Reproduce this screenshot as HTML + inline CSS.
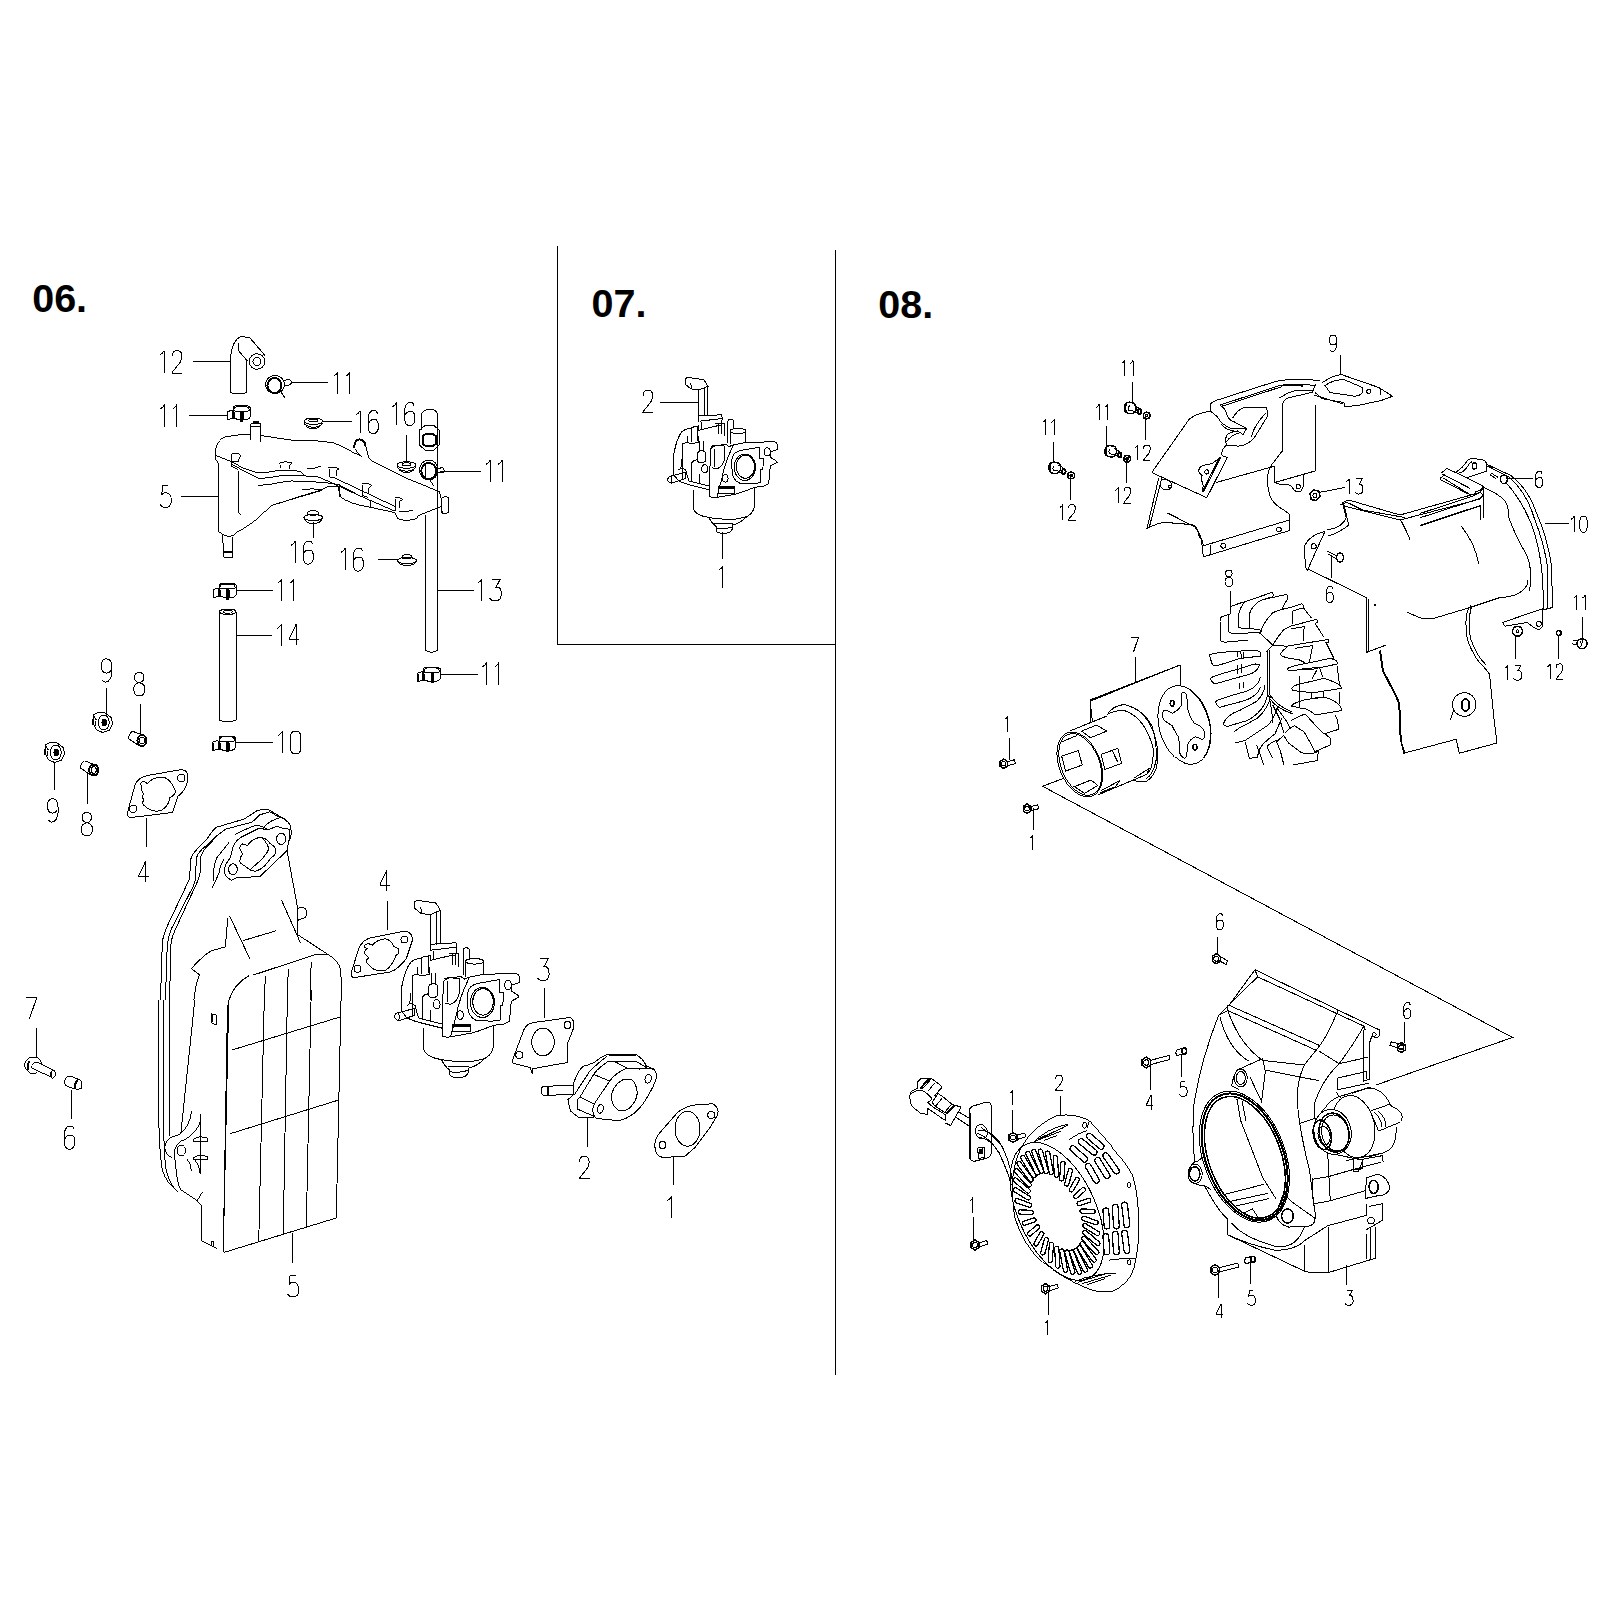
<!DOCTYPE html>
<html><head><meta charset="utf-8"><style>
html,body{margin:0;padding:0;background:#fff;}
body{width:1620px;height:1621px;overflow:hidden;position:relative;}
svg{position:absolute;left:0;top:0;}
.t{position:absolute;font-family:"Liberation Sans",sans-serif;font-weight:bold;font-size:39.5px;line-height:1;color:#000;}
</style></head><body>
<svg shape-rendering="crispEdges" width="1620" height="1621" viewBox="0 0 1620 1621">
<rect width="1620" height="1621" fill="#fff"/>
<g stroke="#000" stroke-width="1.5" fill="none">
<path d="M557.5,246 V644.3 H835.5 M835.5,249.5 V1375"/>
</g>
<g fill="none" stroke="#000" stroke-width="1">
<path transform="translate(160.00,350.50)" d="M4.2,0 V22 M4.2,0 Q3,2.8 0,4.3" vector-effect="non-scaling-stroke"/>
<path transform="translate(172.20,350.50)" d="M0.2,5.5 Q0.2,0.3 4,0.3 H6.6 Q9.6,0.8 9.6,6 Q9.6,9 7.8,12 L0.2,21.5 L0,22.5 H10" vector-effect="non-scaling-stroke"/>
<path transform="translate(333.50,372.00)" d="M4.2,0 V22 M4.2,0 Q3,2.8 0,4.3" vector-effect="non-scaling-stroke"/>
<path transform="translate(345.70,372.00)" d="M4.2,0 V22 M4.2,0 Q3,2.8 0,4.3" vector-effect="non-scaling-stroke"/>
<path transform="translate(160.50,404.50)" d="M4.2,0 V22 M4.2,0 Q3,2.8 0,4.3" vector-effect="non-scaling-stroke"/>
<path transform="translate(172.70,404.50)" d="M4.2,0 V22 M4.2,0 Q3,2.8 0,4.3" vector-effect="non-scaling-stroke"/>
<path transform="translate(356.00,410.50)" d="M4.2,0 V22 M4.2,0 Q3,2.8 0,4.3" vector-effect="non-scaling-stroke"/>
<path transform="translate(368.20,410.50)" d="M9.1,3.5 Q9,0 6,0 H4 Q0.5,2 0,7 V17 Q0.5,23.3 5.3,23.3 Q10.2,22.5 10.2,16 Q10.2,9 6.5,9 H4.5 Q1.5,9.5 0.4,12.7" vector-effect="non-scaling-stroke"/>
<path transform="translate(392.50,402.50)" d="M4.2,0 V22 M4.2,0 Q3,2.8 0,4.3" vector-effect="non-scaling-stroke"/>
<path transform="translate(404.70,402.50)" d="M9.1,3.5 Q9,0 6,0 H4 Q0.5,2 0,7 V17 Q0.5,23.3 5.3,23.3 Q10.2,22.5 10.2,16 Q10.2,9 6.5,9 H4.5 Q1.5,9.5 0.4,12.7" vector-effect="non-scaling-stroke"/>
<path transform="translate(486.00,460.00)" d="M4.2,0 V22 M4.2,0 Q3,2.8 0,4.3" vector-effect="non-scaling-stroke"/>
<path transform="translate(498.20,460.00)" d="M4.2,0 V22 M4.2,0 Q3,2.8 0,4.3" vector-effect="non-scaling-stroke"/>
<path transform="translate(160.00,485.50)" d="M8,0 H2.6 L1.8,9.5 Q3,7.2 5,7.2 H6 Q11.3,8.2 11.3,14.5 Q11.3,22 5.5,22 Q2,22 0,19" vector-effect="non-scaling-stroke"/>
<path transform="translate(291.00,541.00)" d="M4.2,0 V22 M4.2,0 Q3,2.8 0,4.3" vector-effect="non-scaling-stroke"/>
<path transform="translate(303.20,541.00)" d="M9.1,3.5 Q9,0 6,0 H4 Q0.5,2 0,7 V17 Q0.5,23.3 5.3,23.3 Q10.2,22.5 10.2,16 Q10.2,9 6.5,9 H4.5 Q1.5,9.5 0.4,12.7" vector-effect="non-scaling-stroke"/>
<path transform="translate(341.00,548.00)" d="M4.2,0 V22 M4.2,0 Q3,2.8 0,4.3" vector-effect="non-scaling-stroke"/>
<path transform="translate(353.20,548.00)" d="M9.1,3.5 Q9,0 6,0 H4 Q0.5,2 0,7 V17 Q0.5,23.3 5.3,23.3 Q10.2,22.5 10.2,16 Q10.2,9 6.5,9 H4.5 Q1.5,9.5 0.4,12.7" vector-effect="non-scaling-stroke"/>
<path transform="translate(277.50,579.00)" d="M4.2,0 V22 M4.2,0 Q3,2.8 0,4.3" vector-effect="non-scaling-stroke"/>
<path transform="translate(289.70,579.00)" d="M4.2,0 V22 M4.2,0 Q3,2.8 0,4.3" vector-effect="non-scaling-stroke"/>
<path transform="translate(477.50,579.00)" d="M4.2,0 V22 M4.2,0 Q3,2.8 0,4.3" vector-effect="non-scaling-stroke"/>
<path transform="translate(489.70,579.00)" d="M2.2,0 H10.7 L6.4,8 H8.6 Q11.5,9.5 11.5,14 V16.5 Q11,22 5,22 Q1.8,22 0,19" vector-effect="non-scaling-stroke"/>
<path transform="translate(277.00,624.40)" d="M4.2,0 V22 M4.2,0 Q3,2.8 0,4.3" vector-effect="non-scaling-stroke"/>
<path transform="translate(289.20,624.40)" d="M6.9,21 V0 L0,14.5 V15.1 H10.1" vector-effect="non-scaling-stroke"/>
<path transform="translate(482.50,662.50)" d="M4.2,0 V22 M4.2,0 Q3,2.8 0,4.3" vector-effect="non-scaling-stroke"/>
<path transform="translate(494.70,662.50)" d="M4.2,0 V22 M4.2,0 Q3,2.8 0,4.3" vector-effect="non-scaling-stroke"/>
<path transform="translate(278.20,731.20)" d="M4.2,0 V22 M4.2,0 Q3,2.8 0,4.3" vector-effect="non-scaling-stroke"/>
<path transform="translate(290.40,731.20)" d="M3.2,0 H7.3 Q10.3,1.5 10.3,5.5 V17 Q10.3,21.3 7.3,22.5 H3.2 Q0.2,21.3 0.2,17 V5.5 Q0.2,1.5 3.2,0 Z" vector-effect="non-scaling-stroke"/>
<path transform="translate(101.25,658.75)" d="M0.9,21 Q2,23.4 4.5,23.4 Q9.8,22.5 10.5,14 V8 Q10.5,0 5,0 Q0,0 0,7 Q0,14.3 5,14.3 Q8.5,14.3 9.8,11" vector-effect="non-scaling-stroke"/>
<path transform="translate(133.75,672.50)" d="M5.5,10.2 Q0.8,9 0.8,5.2 Q0.8,0 5.5,0 Q10.2,0 10.2,5.2 Q10.2,9 5.5,10.2 Q11.3,11.5 11.3,16.5 Q11.3,23.4 5.5,23.4 Q0,23.4 0,16.5 Q0,11.5 5.5,10.2 Z" vector-effect="non-scaling-stroke"/>
<path transform="translate(47.50,798.75)" d="M0.9,21 Q2,23.4 4.5,23.4 Q9.8,22.5 10.5,14 V8 Q10.5,0 5,0 Q0,0 0,7 Q0,14.3 5,14.3 Q8.5,14.3 9.8,11" vector-effect="non-scaling-stroke"/>
<path transform="translate(81.25,812.50)" d="M5.5,10.2 Q0.8,9 0.8,5.2 Q0.8,0 5.5,0 Q10.2,0 10.2,5.2 Q10.2,9 5.5,10.2 Q11.3,11.5 11.3,16.5 Q11.3,23.4 5.5,23.4 Q0,23.4 0,16.5 Q0,11.5 5.5,10.2 Z" vector-effect="non-scaling-stroke"/>
<path transform="translate(138.75,861.25)" d="M6.9,21 V0 L0,14.5 V15.1 H10.1" vector-effect="non-scaling-stroke"/>
<path transform="translate(380.00,870.00)" d="M6.9,21 V0 L0,14.5 V15.1 H10.1" vector-effect="non-scaling-stroke"/>
<path transform="translate(26.25,997.50)" d="M0,0 H10.6 Q7,10 3.3,21.2" vector-effect="non-scaling-stroke"/>
<path transform="translate(64.50,1126.00)" d="M9.1,3.5 Q9,0 6,0 H4 Q0.5,2 0,7 V17 Q0.5,23.3 5.3,23.3 Q10.2,22.5 10.2,16 Q10.2,9 6.5,9 H4.5 Q1.5,9.5 0.4,12.7" vector-effect="non-scaling-stroke"/>
<path transform="translate(287.50,1275.00)" d="M8,0 H2.6 L1.8,9.5 Q3,7.2 5,7.2 H6 Q11.3,8.2 11.3,14.5 Q11.3,22 5.5,22 Q2,22 0,19" vector-effect="non-scaling-stroke"/>
<path transform="translate(537.50,958.75)" d="M2.2,0 H10.7 L6.4,8 H8.6 Q11.5,9.5 11.5,14 V16.5 Q11,22 5,22 Q1.8,22 0,19" vector-effect="non-scaling-stroke"/>
<path transform="translate(579.50,1156.25)" d="M0.2,5.5 Q0.2,0.3 4,0.3 H6.6 Q9.6,0.8 9.6,6 Q9.6,9 7.8,12 L0.2,21.5 L0,22.5 H10" vector-effect="non-scaling-stroke"/>
<path transform="translate(667.50,1196.25)" d="M4.2,0 V22 M4.2,0 Q3,2.8 0,4.3" vector-effect="non-scaling-stroke"/>
<path transform="translate(643.00,390.00)" d="M0.2,5.5 Q0.2,0.3 4,0.3 H6.6 Q9.6,0.8 9.6,6 Q9.6,9 7.8,12 L0.2,21.5 L0,22.5 H10" vector-effect="non-scaling-stroke"/>
<path transform="translate(718.50,566.00)" d="M4.2,0 V22 M4.2,0 Q3,2.8 0,4.3" vector-effect="non-scaling-stroke"/>
<path transform="translate(1121.60,360.50) scale(0.7)" d="M4.2,0 V22 M4.2,0 Q3,2.8 0,4.3" vector-effect="non-scaling-stroke"/>
<path transform="translate(1130.14,360.50) scale(0.7)" d="M4.2,0 V22 M4.2,0 Q3,2.8 0,4.3" vector-effect="non-scaling-stroke"/>
<path transform="translate(1096.10,404.40) scale(0.7)" d="M4.2,0 V22 M4.2,0 Q3,2.8 0,4.3" vector-effect="non-scaling-stroke"/>
<path transform="translate(1104.64,404.40) scale(0.7)" d="M4.2,0 V22 M4.2,0 Q3,2.8 0,4.3" vector-effect="non-scaling-stroke"/>
<path transform="translate(1042.80,419.40) scale(0.7)" d="M4.2,0 V22 M4.2,0 Q3,2.8 0,4.3" vector-effect="non-scaling-stroke"/>
<path transform="translate(1051.34,419.40) scale(0.7)" d="M4.2,0 V22 M4.2,0 Q3,2.8 0,4.3" vector-effect="non-scaling-stroke"/>
<path transform="translate(1134.90,444.90) scale(0.7)" d="M4.2,0 V22 M4.2,0 Q3,2.8 0,4.3" vector-effect="non-scaling-stroke"/>
<path transform="translate(1143.44,444.90) scale(0.7)" d="M0.2,5.5 Q0.2,0.3 4,0.3 H6.6 Q9.6,0.8 9.6,6 Q9.6,9 7.8,12 L0.2,21.5 L0,22.5 H10" vector-effect="non-scaling-stroke"/>
<path transform="translate(1115.40,487.30) scale(0.7)" d="M4.2,0 V22 M4.2,0 Q3,2.8 0,4.3" vector-effect="non-scaling-stroke"/>
<path transform="translate(1123.94,487.30) scale(0.7)" d="M0.2,5.5 Q0.2,0.3 4,0.3 H6.6 Q9.6,0.8 9.6,6 Q9.6,9 7.8,12 L0.2,21.5 L0,22.5 H10" vector-effect="non-scaling-stroke"/>
<path transform="translate(1060.00,504.30) scale(0.7)" d="M4.2,0 V22 M4.2,0 Q3,2.8 0,4.3" vector-effect="non-scaling-stroke"/>
<path transform="translate(1068.54,504.30) scale(0.7)" d="M0.2,5.5 Q0.2,0.3 4,0.3 H6.6 Q9.6,0.8 9.6,6 Q9.6,9 7.8,12 L0.2,21.5 L0,22.5 H10" vector-effect="non-scaling-stroke"/>
<path transform="translate(1329.50,335.00) scale(0.7)" d="M0.9,21 Q2,23.4 4.5,23.4 Q9.8,22.5 10.5,14 V8 Q10.5,0 5,0 Q0,0 0,7 Q0,14.3 5,14.3 Q8.5,14.3 9.8,11" vector-effect="non-scaling-stroke"/>
<path transform="translate(1346.25,478.75) scale(0.7)" d="M4.2,0 V22 M4.2,0 Q3,2.8 0,4.3" vector-effect="non-scaling-stroke"/>
<path transform="translate(1354.79,478.75) scale(0.7)" d="M2.2,0 H10.7 L6.4,8 H8.6 Q11.5,9.5 11.5,14 V16.5 Q11,22 5,22 Q1.8,22 0,19" vector-effect="non-scaling-stroke"/>
<path transform="translate(1326.25,586.25) scale(0.7)" d="M9.1,3.5 Q9,0 6,0 H4 Q0.5,2 0,7 V17 Q0.5,23.3 5.3,23.3 Q10.2,22.5 10.2,16 Q10.2,9 6.5,9 H4.5 Q1.5,9.5 0.4,12.7" vector-effect="non-scaling-stroke"/>
<path transform="translate(1225.00,570.00) scale(0.7)" d="M5.5,10.2 Q0.8,9 0.8,5.2 Q0.8,0 5.5,0 Q10.2,0 10.2,5.2 Q10.2,9 5.5,10.2 Q11.3,11.5 11.3,16.5 Q11.3,23.4 5.5,23.4 Q0,23.4 0,16.5 Q0,11.5 5.5,10.2 Z" vector-effect="non-scaling-stroke"/>
<path transform="translate(1131.25,637.00) scale(0.7)" d="M0,0 H10.6 Q7,10 3.3,21.2" vector-effect="non-scaling-stroke"/>
<path transform="translate(1535.50,471.25) scale(0.7)" d="M9.1,3.5 Q9,0 6,0 H4 Q0.5,2 0,7 V17 Q0.5,23.3 5.3,23.3 Q10.2,22.5 10.2,16 Q10.2,9 6.5,9 H4.5 Q1.5,9.5 0.4,12.7" vector-effect="non-scaling-stroke"/>
<path transform="translate(1571.25,516.25) scale(0.7)" d="M4.2,0 V22 M4.2,0 Q3,2.8 0,4.3" vector-effect="non-scaling-stroke"/>
<path transform="translate(1579.79,516.25) scale(0.7)" d="M3.2,0 H7.3 Q10.3,1.5 10.3,5.5 V17 Q10.3,21.3 7.3,22.5 H3.2 Q0.2,21.3 0.2,17 V5.5 Q0.2,1.5 3.2,0 Z" vector-effect="non-scaling-stroke"/>
<path transform="translate(1573.75,595.00) scale(0.7)" d="M4.2,0 V22 M4.2,0 Q3,2.8 0,4.3" vector-effect="non-scaling-stroke"/>
<path transform="translate(1582.29,595.00) scale(0.7)" d="M4.2,0 V22 M4.2,0 Q3,2.8 0,4.3" vector-effect="non-scaling-stroke"/>
<path transform="translate(1505.00,665.00) scale(0.7)" d="M4.2,0 V22 M4.2,0 Q3,2.8 0,4.3" vector-effect="non-scaling-stroke"/>
<path transform="translate(1513.54,665.00) scale(0.7)" d="M2.2,0 H10.7 L6.4,8 H8.6 Q11.5,9.5 11.5,14 V16.5 Q11,22 5,22 Q1.8,22 0,19" vector-effect="non-scaling-stroke"/>
<path transform="translate(1547.50,663.75) scale(0.7)" d="M4.2,0 V22 M4.2,0 Q3,2.8 0,4.3" vector-effect="non-scaling-stroke"/>
<path transform="translate(1556.04,663.75) scale(0.7)" d="M0.2,5.5 Q0.2,0.3 4,0.3 H6.6 Q9.6,0.8 9.6,6 Q9.6,9 7.8,12 L0.2,21.5 L0,22.5 H10" vector-effect="non-scaling-stroke"/>
<path transform="translate(1005.00,716.25) scale(0.7)" d="M4.2,0 V22 M4.2,0 Q3,2.8 0,4.3" vector-effect="non-scaling-stroke"/>
<path transform="translate(1030.00,835.00) scale(0.7)" d="M4.2,0 V22 M4.2,0 Q3,2.8 0,4.3" vector-effect="non-scaling-stroke"/>
<path transform="translate(1216.25,913.75) scale(0.7)" d="M9.1,3.5 Q9,0 6,0 H4 Q0.5,2 0,7 V17 Q0.5,23.3 5.3,23.3 Q10.2,22.5 10.2,16 Q10.2,9 6.5,9 H4.5 Q1.5,9.5 0.4,12.7" vector-effect="non-scaling-stroke"/>
<path transform="translate(1403.75,1002.50) scale(0.7)" d="M9.1,3.5 Q9,0 6,0 H4 Q0.5,2 0,7 V17 Q0.5,23.3 5.3,23.3 Q10.2,22.5 10.2,16 Q10.2,9 6.5,9 H4.5 Q1.5,9.5 0.4,12.7" vector-effect="non-scaling-stroke"/>
<path transform="translate(1055.50,1075.00) scale(0.7)" d="M0.2,5.5 Q0.2,0.3 4,0.3 H6.6 Q9.6,0.8 9.6,6 Q9.6,9 7.8,12 L0.2,21.5 L0,22.5 H10" vector-effect="non-scaling-stroke"/>
<path transform="translate(1010.00,1090.00) scale(0.7)" d="M4.2,0 V22 M4.2,0 Q3,2.8 0,4.3" vector-effect="non-scaling-stroke"/>
<path transform="translate(1146.25,1095.00) scale(0.7)" d="M6.9,21 V0 L0,14.5 V15.1 H10.1" vector-effect="non-scaling-stroke"/>
<path transform="translate(1179.25,1081.25) scale(0.7)" d="M8,0 H2.6 L1.8,9.5 Q3,7.2 5,7.2 H6 Q11.3,8.2 11.3,14.5 Q11.3,22 5.5,22 Q2,22 0,19" vector-effect="non-scaling-stroke"/>
<path transform="translate(970.00,1197.50) scale(0.7)" d="M4.2,0 V22 M4.2,0 Q3,2.8 0,4.3" vector-effect="non-scaling-stroke"/>
<path transform="translate(1045.00,1320.00) scale(0.7)" d="M4.2,0 V22 M4.2,0 Q3,2.8 0,4.3" vector-effect="non-scaling-stroke"/>
<path transform="translate(1216.25,1303.75) scale(0.7)" d="M6.9,21 V0 L0,14.5 V15.1 H10.1" vector-effect="non-scaling-stroke"/>
<path transform="translate(1247.50,1290.00) scale(0.7)" d="M8,0 H2.6 L1.8,9.5 Q3,7.2 5,7.2 H6 Q11.3,8.2 11.3,14.5 Q11.3,22 5.5,22 Q2,22 0,19" vector-effect="non-scaling-stroke"/>
<path transform="translate(1345.00,1290.00) scale(0.7)" d="M2.2,0 H10.7 L6.4,8 H8.6 Q11.5,9.5 11.5,14 V16.5 Q11,22 5,22 Q1.8,22 0,19" vector-effect="non-scaling-stroke"/>
</g>
<g fill="none" stroke="#000" stroke-width="1" stroke-linecap="round">
<path d="M193,361.5 H230"/>
<path d="M291,382.5 H327.5"/>
<path d="M189,415.5 H227.5"/>
<path d="M322.5,421.5 H352"/>
<path d="M406.5,435 V462.5"/>
<path d="M440,471.5 H481"/>
<path d="M181,496.5 H217.5"/>
<path d="M313.5,522.5 V537.5"/>
<path d="M378,559.5 H397.5"/>
<path d="M236,590.5 H272.5"/>
<path d="M437.5,590.5 H474"/>
<path d="M236,635.5 H272"/>
<path d="M441,674.5 H477.5"/>
<path d="M106.5,688.75 V715"/>
<path d="M140.5,704.5 V733.75"/>
<path d="M54.5,762.5 V790"/>
<path d="M87.5,773.75 V803.75"/>
<path d="M146.5,818 V847"/>
<path d="M235,742.5 H272.5"/>
<path d="M387.5,901.25 V930"/>
<path d="M36.5,1028 V1057.5"/>
<path d="M71.75,1090 V1118.75"/>
<path d="M292.5,1233.75 V1262.5"/>
<path d="M544.5,988.75 V1017.5"/>
<path d="M587.5,1117.5 V1146.25"/>
<path d="M673.5,1156.25 V1185"/>
<path d="M660.7,402.5 H698.5"/>
<path d="M722.5,532.4 V558.3"/>
<path d="M1132.5,382.2 V402.2"/>
<path d="M1106.5,426 V446.6"/>
<path d="M1053.5,442.2 V462.1"/>
<path d="M1145.5,416 V439.4"/>
<path d="M1126.5,459.4 V482.7"/>
<path d="M1070.5,477.7 V499.9"/>
<path d="M1340.5,355 V373.75"/>
<path d="M1318.75,492.5 L1345,487.5"/>
<path d="M1331.5,555 V577.5"/>
<path d="M1230.5,591.25 V613.75"/>
<path d="M1135.5,657.5 V681.25"/>
<path d="M1090,701.25 L1180,665 M1090,701.25 V722 M1180,665 V685"/>
<path d="M1506.25,478.5 H1532.5"/>
<path d="M1545,523.75 H1568.75"/>
<path d="M1582.5,617.5 V642.5"/>
<path d="M1515.5,635 V658.75"/>
<path d="M1558.5,635 V658.75"/>
<path d="M1009.5,738.75 V760"/>
<path d="M1033.75,808.75 V830"/>
<path d="M1217.5,937.5 V955"/>
<path d="M1404.5,1022.5 V1042.5"/>
<path d="M1060.5,1096.25 V1115"/>
<path d="M1012.5,1110 V1132.5"/>
<path d="M1150.5,1065 V1090"/>
<path d="M1181.5,1055 V1076.25"/>
<path d="M973.5,1217.5 V1240"/>
<path d="M1048.75,1290 V1315"/>
<path d="M1218.75,1270 V1297.5"/>
<path d="M1250.5,1260 V1283.75"/>
<path d="M1346.5,1265 V1285"/>
<path d="M1062.5,778.75 L1042.5,786.25 L1512.5,1037.5 L1376,1085"/>
</g>
<g transform="translate(205,420) scale(0.15432098765432098)" fill="none" stroke="#000" stroke-width="1">

<path d="M85,720 V280 L70,255 V185 Q90,120 130,110 Q200,95 295,92" vector-effect="non-scaling-stroke"/>
<path d="M295,130 V25 H360 V145" vector-effect="non-scaling-stroke"/><path d="M300,45 H358" vector-effect="non-scaling-stroke"/><path d="M310,15 H350" stroke-width="2" vector-effect="non-scaling-stroke"/>
<path d="M360,100 L590,135 Q700,125 840,150 Q900,175 960,210 L1015,235" vector-effect="non-scaling-stroke"/>
<path d="M965,180 Q970,130 1000,125 Q1035,130 1040,165" stroke-width="2" vector-effect="non-scaling-stroke"/>
<path d="M1040,165 L1060,240 Q1075,265 1100,275 L1300,375 L1520,465" vector-effect="non-scaling-stroke"/><path d="M975,190 Q990,215 1010,235" vector-effect="non-scaling-stroke"/>
<path d="M1520,465 L1530,510 Q1550,490 1580,500 V600 L1540,610 L1530,560 L1380,620 L1370,640 Q1300,660 1250,640 L1230,600" vector-effect="non-scaling-stroke"/>
<path d="M1530,510 V600" vector-effect="non-scaling-stroke"/>
<path d="M1230,600 L1070,565 Q940,545 880,500 L860,430 Q800,420 750,455 L600,500 L430,555 L370,610 Q300,680 200,730 L180,750 Q150,760 120,745 L85,720" vector-effect="non-scaling-stroke"/>
<path d="M115,745 L120,890 H180 V760" vector-effect="non-scaling-stroke"/><path d="M115,858 H180" stroke-width="2" vector-effect="non-scaling-stroke"/>
<path d="M70,230 L170,270 Q250,320 330,340 Q400,345 460,330 Q560,320 620,335 L640,355" vector-effect="non-scaling-stroke"/>
<path d="M170,285 Q250,330 350,380 Q420,375 500,360 L620,360 L740,370 L1000,490 L1230,590" vector-effect="non-scaling-stroke"/>
<path d="M345,425 L430,415 Q500,400 560,395 L700,400 L820,410 L870,420 L1010,495" vector-effect="non-scaling-stroke"/>
<path d="M630,450 Q700,440 760,455" vector-effect="non-scaling-stroke"/><path d="M440,550 L760,455" vector-effect="non-scaling-stroke"/><path d="M220,330 V600 L235,615" vector-effect="non-scaling-stroke"/>
<path d="M660,315 Q700,320 750,300" vector-effect="non-scaling-stroke"/><path d="M1255,590 Q1300,600 1350,585" vector-effect="non-scaling-stroke"/>
<path d="M840,375 L1230,560" vector-effect="non-scaling-stroke"/><path d="M870,420 V500" vector-effect="non-scaling-stroke"/><path d="M1075,520 V565" vector-effect="non-scaling-stroke"/>
<path d="M165,230 Q170,215 200,215 Q230,220 230,230 L215,270 H170 V230" vector-effect="non-scaling-stroke"/><path d="M170,270 V300 L215,320" vector-effect="non-scaling-stroke"/>
<path d="M480,280 Q520,262 565,278 L550,290 V320" vector-effect="non-scaling-stroke"/><path d="M490,290 V310" vector-effect="non-scaling-stroke"/>
<path d="M800,310 Q840,300 870,315 L850,330 V360" vector-effect="non-scaling-stroke"/><path d="M810,320 V370 L840,375" vector-effect="non-scaling-stroke"/>
<path d="M1015,410 Q1050,400 1080,425 L1060,440 V470" vector-effect="non-scaling-stroke"/><path d="M1020,420 V490 L1055,500" vector-effect="non-scaling-stroke"/>
<path d="M1230,505 Q1260,495 1280,515 L1260,530 V570" vector-effect="non-scaling-stroke"/><path d="M1235,510 V590" vector-effect="non-scaling-stroke"/>

</g>
<g transform="translate(140,320) scale(0.25)" fill="none" stroke="#000" stroke-width="1">

<path d="M362,290 V155 Q368,80 405,65 L440,72 L500,142" vector-effect="non-scaling-stroke"/>
<path d="M392,90 V120 L430,165" vector-effect="non-scaling-stroke"/><path d="M427,165 V290" vector-effect="non-scaling-stroke"/><path d="M362,290 Q395,302 427,290" vector-effect="non-scaling-stroke"/>
<circle cx="468" cy="166" r="31" vector-effect="non-scaling-stroke"/><circle cx="468" cy="166" r="16" vector-effect="non-scaling-stroke"/>
<ellipse cx="540" cy="258" rx="38" ry="36" vector-effect="non-scaling-stroke"/><ellipse cx="538" cy="262" rx="28" ry="30" stroke-width="2" vector-effect="non-scaling-stroke"/>
<path d="M578,242 L595,236 L606,246 L603,258 L578,264" vector-effect="non-scaling-stroke"/><path d="M565,290 L580,312" vector-effect="non-scaling-stroke"/>
<ellipse cx="693" cy="405" rx="37" ry="13" vector-effect="non-scaling-stroke"/><ellipse cx="693" cy="402" rx="18" ry="6" vector-effect="non-scaling-stroke"/>
<path d="M657,412 Q660,425 693,430 Q726,425 729,412" vector-effect="non-scaling-stroke"/><path d="M665,426 Q693,445 721,426" vector-effect="non-scaling-stroke"/>
<ellipse cx="1066" cy="580" rx="38" ry="13" vector-effect="non-scaling-stroke"/><ellipse cx="1066" cy="577" rx="18" ry="6" vector-effect="non-scaling-stroke"/>
<path d="M1029,587 Q1032,600 1066,605 Q1100,600 1103,587" vector-effect="non-scaling-stroke"/><path d="M1037,601 Q1066,620 1095,601" vector-effect="non-scaling-stroke"/>
<ellipse cx="693" cy="772" rx="22" ry="9" vector-effect="non-scaling-stroke"/><path d="M671,772 V785" vector-effect="non-scaling-stroke"/><path d="M715,772 V785" vector-effect="non-scaling-stroke"/>
<ellipse cx="693" cy="790" rx="37" ry="12" vector-effect="non-scaling-stroke"/><path d="M656,792 Q660,812 693,815 Q726,812 730,792" vector-effect="non-scaling-stroke"/>
<ellipse cx="1068" cy="947" rx="20" ry="8" vector-effect="non-scaling-stroke"/><path d="M1048,947 V957" vector-effect="non-scaling-stroke"/><path d="M1088,947 V957" vector-effect="non-scaling-stroke"/>
<ellipse cx="1068" cy="962" rx="38" ry="13" vector-effect="non-scaling-stroke"/><path d="M1030,965 Q1035,980 1068,983 Q1101,980 1106,965" vector-effect="non-scaling-stroke"/>
<ellipse cx="351" cy="1167" rx="33" ry="11" vector-effect="non-scaling-stroke"/><ellipse cx="351" cy="1167" rx="18" ry="6" vector-effect="non-scaling-stroke"/>
<path d="M318,1167 V1600 Q350,1615 385,1600 V1167" vector-effect="non-scaling-stroke"/>
<path d="M1190,380 V1320 Q1165,1338 1140,1320 V780" vector-effect="non-scaling-stroke"/><path d="M1140,640 V580" vector-effect="non-scaling-stroke"/>
<path d="M1125,440 V380 Q1130,358 1160,356 Q1188,358 1190,380" vector-effect="non-scaling-stroke"/>
<path d="M1118,440 L1140,422 H1175 L1197,440 V500 L1175,520 H1140 L1118,500 Z" vector-effect="non-scaling-stroke"/>
<path d="M1130,465 L1145,455 H1170 L1185,465 V495 L1170,505 H1145 L1130,495 Z" stroke-width="2" vector-effect="non-scaling-stroke"/>
<ellipse cx="1155" cy="600" rx="37" ry="40" vector-effect="non-scaling-stroke"/><ellipse cx="1155" cy="604" rx="30" ry="32" stroke-width="2" vector-effect="non-scaling-stroke"/>
<path d="M1190,595 L1210,590 L1218,602 L1210,612 L1190,610" vector-effect="non-scaling-stroke"/><path d="M1160,640 L1175,665" vector-effect="non-scaling-stroke"/>


</g>
<g transform="translate(0,640) scale(0.25)" fill="none" stroke="#000" stroke-width="1">

<path d="M372,300 L392,290 L420,292 L445,310 L450,335 L438,360 L410,370 L385,358 L372,330 Z" vector-effect="non-scaling-stroke"/>
<path d="M368,315 V340 M380,322 V345 M372,300 L385,320" vector-effect="non-scaling-stroke"/>
<ellipse cx="415" cy="330" rx="22" ry="30" vector-effect="non-scaling-stroke"/><ellipse cx="417" cy="330" rx="9" ry="14" fill="#000" vector-effect="non-scaling-stroke"/>
<path d="M180,420 L200,410 L228,412 L253,430 L258,455 L246,480 L218,490 L193,478 L180,450 Z" vector-effect="non-scaling-stroke"/>
<path d="M176,435 V460 M188,442 V465 M180,420 L193,440" vector-effect="non-scaling-stroke"/>
<ellipse cx="223" cy="450" rx="22" ry="30" vector-effect="non-scaling-stroke"/><ellipse cx="225" cy="450" rx="9" ry="14" fill="#000" vector-effect="non-scaling-stroke"/>
<path d="M530,365 Q515,375 515,395 L555,422 M530,365 L575,382" vector-effect="non-scaling-stroke"/>
<ellipse cx="568" cy="402" rx="18" ry="22" stroke-width="2" vector-effect="non-scaling-stroke"/><ellipse cx="568" cy="402" rx="10" ry="13" vector-effect="non-scaling-stroke"/>
<path d="M338,483 Q322,492 322,512 L362,540 M338,483 L382,500" vector-effect="non-scaling-stroke"/>
<ellipse cx="375" cy="520" rx="18" ry="22" stroke-width="2" vector-effect="non-scaling-stroke"/><ellipse cx="375" cy="520" rx="10" ry="13" vector-effect="non-scaling-stroke"/>
<path d="M510,690 L540,580 Q552,548 600,540 L728,518 Q755,522 752,560 L742,590 Q735,605 712,625 L690,690 L525,710 Q505,708 510,690 Z" vector-effect="non-scaling-stroke"/>
<circle cx="725" cy="552" r="15" vector-effect="non-scaling-stroke"/><circle cx="533" cy="675" r="15" vector-effect="non-scaling-stroke"/>
<path d="M565,585 Q558,570 575,565 L590,575 Q610,548 650,548 Q680,552 700,600 Q705,610 690,625 L680,630 Q670,680 630,685 Q600,685 580,665 Q565,655 575,640 L568,625 Q580,615 565,600 Z" vector-effect="non-scaling-stroke"/>

</g>
<g transform="translate(150,800) scale(0.1234567901234568)" fill="none" stroke="#000" stroke-width="1">

<path d="M85,1620 L100,1150 Q110,1080 150,1000 L320,640 L330,480 Q340,440 380,400 L460,320 Q500,250 540,220 L760,155 Q820,120 870,85 Q900,75 960,78 L1080,150 Q1130,180 1140,220 L1145,270 L1130,330" vector-effect="non-scaling-stroke"/>
<path d="M125,1620 L140,1170 Q150,1100 175,1040 L355,690 Q370,650 370,600 L375,480 Q380,440 420,400 L455,370 Q510,320 540,290 L615,235 L825,180 Q860,150 890,120 L970,95 L1030,130 Q1075,145 1090,150" vector-effect="non-scaling-stroke"/>
<path d="M158,1620 L170,1170 Q175,1110 200,1060 L385,660 Q400,620 405,590 L405,490 Q410,440 450,390 L510,330" vector-effect="non-scaling-stroke"/>
<path d="M600,580 Q610,625 660,650 L700,630 L890,620 L1110,410 L1125,330 Q1140,270 1130,240 Q1100,225 1080,230 Q1040,210 1010,220 L960,240 L880,230 L740,300 Q680,340 670,390 L650,470 Q605,520 600,580 Z" vector-effect="non-scaling-stroke"/>
<ellipse cx="1063" cy="315" rx="38" ry="45" vector-effect="non-scaling-stroke"/><ellipse cx="672" cy="562" rx="35" ry="45" vector-effect="non-scaling-stroke"/>
<path d="M730,400 Q720,370 750,355 L790,370 Q820,320 880,305 Q940,300 970,350 L1010,380 Q1025,410 1010,445 L980,470 Q920,560 860,575 Q820,580 790,550 L730,510 Q720,470 750,440 Z" vector-effect="non-scaling-stroke"/>
<path d="M910,310 Q960,360 960,400 Q940,460 820,555" vector-effect="non-scaling-stroke"/>
<path d="M685,280 L825,215 Q880,200 920,220 L960,240" vector-effect="non-scaling-stroke"/><path d="M920,225 Q970,160 1070,140" vector-effect="non-scaling-stroke"/>
<path d="M515,660 Q505,560 540,470 L640,345" vector-effect="non-scaling-stroke"/><path d="M505,710 L560,590 Q570,520 600,480" vector-effect="non-scaling-stroke"/>
<path d="M1110,410 L1195,870 L1195,1090 L1440,1250 Q1530,1300 1545,1380 L1555,1620" vector-effect="non-scaling-stroke"/>
<path d="M1195,880 Q1230,860 1260,880 Q1280,920 1260,950 L1195,975" vector-effect="non-scaling-stroke"/>
<path d="M1065,810 L1220,1160" vector-effect="non-scaling-stroke"/>
<path d="M630,960 L610,1190 L500,1220 Q440,1250 335,1365 L400,1415 Q370,1490 355,1620" vector-effect="non-scaling-stroke"/>
<path d="M645,940 L808,1285" vector-effect="non-scaling-stroke"/><path d="M750,1140 L1020,1060" vector-effect="non-scaling-stroke"/>
<path d="M830,1420 L1345,1250 H1440" vector-effect="non-scaling-stroke"/><path d="M800,1425 Q680,1490 640,1620" vector-effect="non-scaling-stroke"/>
<path d="M935,1425 L925,1620" vector-effect="non-scaling-stroke"/><path d="M1120,1370 L1112,1620" vector-effect="non-scaling-stroke"/><path d="M1305,1315 L1300,1620" vector-effect="non-scaling-stroke"/>

</g>
<g transform="translate(140,1000) scale(0.15432098765432098)" fill="none" stroke="#000" stroke-width="1">

<path d="M120,0 V700 Q125,1000 145,1100 Q165,1180 245,1240" vector-effect="non-scaling-stroke"/>
<path d="M155,0 V900 Q160,1060 170,1100 Q190,1180 215,1210" vector-effect="non-scaling-stroke"/>
<path d="M190,0 V880" vector-effect="non-scaling-stroke"/>
<path d="M355,0 L265,860" vector-effect="non-scaling-stroke"/>
<path d="M200,890 Q160,920 160,960 Q170,1010 210,1020" vector-effect="non-scaling-stroke"/>
<path d="M200,890 L260,870 Q320,820 335,720" vector-effect="non-scaling-stroke"/><path d="M220,1020 Q215,920 300,900 Q370,850 390,790" vector-effect="non-scaling-stroke"/>
<ellipse cx="268" cy="975" rx="28" ry="35" vector-effect="non-scaling-stroke"/>
<path d="M390,740 V1130" vector-effect="non-scaling-stroke"/>
<path d="M345,905 Q380,870 440,900 V915 H345 Z" vector-effect="non-scaling-stroke"/><path d="M345,1025 Q380,990 440,1020 V1035 H345 Z" vector-effect="non-scaling-stroke"/>
<path d="M305,1030 Q330,1060 332,1105" vector-effect="non-scaling-stroke"/><path d="M350,1030 Q385,1070 390,1130" vector-effect="non-scaling-stroke"/>
<path d="M225,1020 L240,1150 Q250,1210 265,1230 L370,1300 L400,1330 V1560 L500,1610" vector-effect="non-scaling-stroke"/>
<path d="M370,1300 L405,1245" vector-effect="non-scaling-stroke"/>
<path d="M460,90 L495,95 V160 L465,150 Z" vector-effect="non-scaling-stroke"/><path d="M470,100 V145" vector-effect="non-scaling-stroke"/>
<ellipse cx="470" cy="1580" rx="10" ry="16" vector-effect="non-scaling-stroke"/>
<path d="M575,0 L540,1600" vector-effect="non-scaling-stroke"/>

</g>
<g transform="translate(0,990) scale(0.25)" fill="none" stroke="#000" stroke-width="1">

<path d="M1058,0 L1035,1005" vector-effect="non-scaling-stroke"/><path d="M1150,0 L1133,975" vector-effect="non-scaling-stroke"/><path d="M1245,0 L1225,950" vector-effect="non-scaling-stroke"/>
<path d="M1365,0 L1345,912 L895,1050" vector-effect="non-scaling-stroke"/>
<path d="M928,240 L1360,108" vector-effect="non-scaling-stroke"/><path d="M920,575 L1355,440" vector-effect="non-scaling-stroke"/>
<path d="M910,60 L893,1050" vector-effect="non-scaling-stroke"/><path d="M1168,975 V970" vector-effect="non-scaling-stroke"/>

</g>
<g transform="translate(385,890) scale(0.12027904738994467)" fill="none" stroke="#000" stroke-width="1">

<path d="M245,100 Q260,85 300,90 L420,108 Q440,130 460,170 L375,205 L300,195 L245,150 Z" vector-effect="non-scaling-stroke"/>
<path d="M300,195 Q310,160 290,140" vector-effect="non-scaling-stroke"/>
<path d="M375,205 V510" vector-effect="non-scaling-stroke"/><path d="M430,180 V455" vector-effect="non-scaling-stroke"/><path d="M460,170 V450" vector-effect="non-scaling-stroke"/>
<path d="M375,450 L460,448 L590,438 L595,470 L590,540 L545,545 L400,580 L380,585" vector-effect="non-scaling-stroke"/>
<path d="M385,500 L590,475" vector-effect="non-scaling-stroke"/><path d="M400,505 V580" vector-effect="non-scaling-stroke"/>
<path d="M300,560 L375,545 V590" vector-effect="non-scaling-stroke"/><path d="M305,555 V695" vector-effect="non-scaling-stroke"/><path d="M360,550 V690" vector-effect="non-scaling-stroke"/>
<path d="M270,640 V700 Q300,720 370,700 V640" vector-effect="non-scaling-stroke"/>
<path d="M225,710 L275,700" vector-effect="non-scaling-stroke"/><path d="M225,710 V1060" vector-effect="non-scaling-stroke"/>
<path d="M140,1010 V800 Q170,650 215,600 Q250,570 305,565" vector-effect="non-scaling-stroke"/>
<path d="M215,860 L205,950" vector-effect="non-scaling-stroke"/>
<path d="M365,800 Q370,780 400,775 Q430,780 435,795 V880 Q420,895 395,895 Q370,890 365,880 Z" vector-effect="non-scaling-stroke"/>
<path d="M385,690 V790" vector-effect="non-scaling-stroke"/><path d="M420,690 V790" vector-effect="non-scaling-stroke"/>
<path d="M490,740 Q500,730 540,730 L620,735 V850 Q600,940 540,950 L500,940" vector-effect="non-scaling-stroke"/><path d="M520,760 V930" vector-effect="non-scaling-stroke"/>
<path d="M310,890 V1070" vector-effect="non-scaling-stroke"/><path d="M380,1000 V1090" vector-effect="non-scaling-stroke"/><path d="M310,890 Q330,860 365,865" vector-effect="non-scaling-stroke"/>
<path d="M650,495 Q660,478 680,480 Q700,482 702,500 V570" vector-effect="non-scaling-stroke"/><path d="M650,495 V705" vector-effect="non-scaling-stroke"/>
<path d="M530,525 H615 V640" vector-effect="non-scaling-stroke"/><path d="M560,520 V620" vector-effect="non-scaling-stroke"/><path d="M590,520 V625" vector-effect="non-scaling-stroke"/>
<ellipse cx="745" cy="593" rx="75" ry="23" vector-effect="non-scaling-stroke"/><path d="M670,593 V720" vector-effect="non-scaling-stroke"/><path d="M820,593 V700" vector-effect="non-scaling-stroke"/>
<path d="M480,1215 L475,1120 L485,770 Q490,740 540,730 L630,720 L660,740 Q700,720 830,700 L1090,695 Q1120,705 1118,735 L1115,770 L1055,790 L1050,840 L1105,875 L1115,890 L1050,925 L1035,1090 L985,1115 L905,1125 L770,1175 L720,1190 L515,1225 Z" vector-effect="non-scaling-stroke"/>
<path d="M685,870 Q690,790 780,775 L950,745 V850 H985 L980,960 H960 V1080 Q930,1090 870,1090 L760,1085 Q700,1060 690,990 Z" vector-effect="non-scaling-stroke"/>
<ellipse cx="810" cy="935" rx="100" ry="125" vector-effect="non-scaling-stroke"/><ellipse cx="815" cy="930" rx="86" ry="110" vector-effect="non-scaling-stroke"/>
<ellipse cx="1022" cy="790" rx="28" ry="38" vector-effect="non-scaling-stroke"/><ellipse cx="625" cy="1040" rx="26" ry="36" vector-effect="non-scaling-stroke"/><ellipse cx="430" cy="950" rx="28" ry="38" vector-effect="non-scaling-stroke"/>
<path d="M545,1220 L590,1050 Q620,890 700,730" vector-effect="non-scaling-stroke"/>
<path d="M560,1120 H715 V1180 H560 Z" vector-effect="non-scaling-stroke"/><path d="M575,1132 H710" stroke-width="2" vector-effect="non-scaling-stroke"/>
<path d="M180,1060 Q230,1090 320,1110 L480,1150" vector-effect="non-scaling-stroke"/><path d="M280,1065 L480,1115" vector-effect="non-scaling-stroke"/><path d="M140,1010 L180,1060" vector-effect="non-scaling-stroke"/>
<path d="M80,1050 Q82,1025 110,1020 L245,985 L250,1040 L120,1085 Q85,1085 80,1050 Z" vector-effect="non-scaling-stroke"/>
<path d="M110,1020 Q125,1050 115,1082" vector-effect="non-scaling-stroke"/><path d="M185,960 Q210,930 250,960 L260,1000 L280,1065" vector-effect="non-scaling-stroke"/>
<path d="M320,1150 V1320 Q335,1375 420,1400 Q520,1425 690,1430 Q800,1415 840,1395 Q895,1360 900,1300 V1125" vector-effect="non-scaling-stroke"/>
<path d="M470,1410 Q490,1460 540,1500 V1540 Q560,1562 620,1562 Q680,1555 690,1520 L695,1480 Q760,1470 830,1400" vector-effect="non-scaling-stroke"/>
<path d="M540,1510 Q610,1525 690,1500" vector-effect="non-scaling-stroke"/><path d="M520,1470 L700,1470" vector-effect="non-scaling-stroke"/>

</g>
<g transform="translate(535,1045) scale(0.08025682182985554)" fill="none" stroke="#000" stroke-width="1">

<path d="M720,800 Q730,740 760,700 L930,450 Q1000,350 1140,290 L1480,300 Q1520,340 1510,420 L1470,520 Q1380,700 1300,790 Q1200,900 1060,940 L880,930 L760,910 Q720,880 720,800 Z" vector-effect="non-scaling-stroke"/>
<ellipse cx="815" cy="795" rx="38" ry="55" transform="rotate(15 815 795)" vector-effect="non-scaling-stroke"/><ellipse cx="1410" cy="420" rx="38" ry="55" transform="rotate(15 1410 420)" vector-effect="non-scaling-stroke"/>
<path d="M1080,440 Q1110,425 1200,425 Q1270,490 1275,600 Q1260,720 1160,800 Q1090,830 1040,815 Q960,760 950,650 Q960,520 1080,440 Z" vector-effect="non-scaling-stroke"/>
<path d="M890,120 L1260,120 Q1350,170 1385,260 L1480,300" vector-effect="non-scaling-stroke"/><path d="M920,125 H1260" stroke-width="2" vector-effect="non-scaling-stroke"/>
<path d="M910,205 H1260 L1420,300" vector-effect="non-scaling-stroke"/><path d="M1000,210 L1150,290 L1310,300" vector-effect="non-scaling-stroke"/>
<path d="M890,120 Q820,150 740,215 L660,250 L600,265 Q560,300 540,340 L480,470 V620 L410,680 L440,820 L540,900 H740" vector-effect="non-scaling-stroke"/>
<path d="M910,205 Q800,280 740,350 L560,650 L530,680 V800 L740,890" vector-effect="non-scaling-stroke"/>
<path d="M740,370 L930,450" vector-effect="non-scaling-stroke"/><path d="M560,650 L740,740" vector-effect="non-scaling-stroke"/><path d="M900,140 Q800,210 680,330 L490,620" vector-effect="non-scaling-stroke"/>
<path d="M80,540 Q90,515 130,515 L480,500 V610 L150,630 Q85,630 80,600 Z" vector-effect="non-scaling-stroke"/><path d="M165,520 V630" stroke-width="2" vector-effect="non-scaling-stroke"/>

</g>
<g transform="translate(15,1045) scale(0.04938271604938271)" fill="none" stroke="#000" stroke-width="1">

<path d="M200,380 Q230,270 330,250 L430,250 Q510,270 520,340 L540,380" vector-effect="non-scaling-stroke"/>
<path d="M200,380 L195,420 Q220,500 260,520 Q290,570 340,580 L420,580 L440,540" vector-effect="non-scaling-stroke"/>
<path d="M280,330 Q260,400 270,500" stroke-width="2" vector-effect="non-scaling-stroke"/>
<path d="M340,400 Q380,350 460,355 L540,395 L800,520" vector-effect="non-scaling-stroke"/><path d="M330,430 Q340,480 390,495 L720,640" vector-effect="non-scaling-stroke"/>
<path d="M720,545 Q760,510 800,520 Q830,550 820,630 L760,670 L720,640 Z" vector-effect="non-scaling-stroke"/><path d="M730,550 V640" stroke-width="2" vector-effect="non-scaling-stroke"/>
<path d="M1060,640 Q1000,690 1000,760 L1020,820 L1200,890" vector-effect="non-scaling-stroke"/><path d="M1060,640 L1140,635 L1340,720 Q1370,780 1350,870 L1260,910 Q1200,890 1205,800 L1260,720" vector-effect="non-scaling-stroke"/>
<path d="M1270,700 L1215,800 L1220,890" stroke-width="2" vector-effect="non-scaling-stroke"/>

</g>
<g transform="translate(227.3,405.6) scale(1.0)" fill="none" stroke="#000" stroke-width="1">

<path d="M6.2,1.5 L8,0 H20.4 L22.8,1.9 L23.1,2.8 Q22.2,5.2 20.1,5.6 H8.3 L6.2,4.9 Z" vector-effect="non-scaling-stroke"/>
<path d="M6.5,4.9 Q6.3,2 9.6,0.9 H18.7 Q21.5,1.6 22,3.9" vector-effect="non-scaling-stroke"/>
<path d="M23.1,2.8 V11.1 L21.3,13.3 L19.4,14.2 H9.9 L9.3,13.3 H2.8 L2.2,14.2 H0 V6.2 L2.8,5.2 L5.2,4.6" vector-effect="non-scaling-stroke"/>
<path d="M5.9,5.2 V13" stroke-width="2" vector-effect="non-scaling-stroke"/><path d="M14.5,6.2 V16.4" stroke-width="3" vector-effect="non-scaling-stroke"/>
<path d="M16.4,6.5 V13.9" vector-effect="non-scaling-stroke"/><path d="M7.4,6.5 V13" vector-effect="non-scaling-stroke"/><path d="M0.6,7 V14" vector-effect="non-scaling-stroke"/>

</g>
<g transform="translate(213.3,583.3) scale(1.0)" fill="none" stroke="#000" stroke-width="1">

<path d="M6.2,1.5 L8,0 H20.4 L22.8,1.9 L23.1,2.8 Q22.2,5.2 20.1,5.6 H8.3 L6.2,4.9 Z" vector-effect="non-scaling-stroke"/>
<path d="M6.5,4.9 Q6.3,2 9.6,0.9 H18.7 Q21.5,1.6 22,3.9" vector-effect="non-scaling-stroke"/>
<path d="M23.1,2.8 V11.1 L21.3,13.3 L19.4,14.2 H9.9 L9.3,13.3 H2.8 L2.2,14.2 H0 V6.2 L2.8,5.2 L5.2,4.6" vector-effect="non-scaling-stroke"/>
<path d="M5.9,5.2 V13" stroke-width="2" vector-effect="non-scaling-stroke"/><path d="M14.5,6.2 V16.4" stroke-width="3" vector-effect="non-scaling-stroke"/>
<path d="M16.4,6.5 V13.9" vector-effect="non-scaling-stroke"/><path d="M7.4,6.5 V13" vector-effect="non-scaling-stroke"/><path d="M0.6,7 V14" vector-effect="non-scaling-stroke"/>

</g>
<g transform="translate(417.5,667) scale(1.0)" fill="none" stroke="#000" stroke-width="1">

<path d="M6.2,1.5 L8,0 H20.4 L22.8,1.9 L23.1,2.8 Q22.2,5.2 20.1,5.6 H8.3 L6.2,4.9 Z" vector-effect="non-scaling-stroke"/>
<path d="M6.5,4.9 Q6.3,2 9.6,0.9 H18.7 Q21.5,1.6 22,3.9" vector-effect="non-scaling-stroke"/>
<path d="M23.1,2.8 V11.1 L21.3,13.3 L19.4,14.2 H9.9 L9.3,13.3 H2.8 L2.2,14.2 H0 V6.2 L2.8,5.2 L5.2,4.6" vector-effect="non-scaling-stroke"/>
<path d="M5.9,5.2 V13" stroke-width="2" vector-effect="non-scaling-stroke"/><path d="M14.5,6.2 V16.4" stroke-width="3" vector-effect="non-scaling-stroke"/>
<path d="M16.4,6.5 V13.9" vector-effect="non-scaling-stroke"/><path d="M7.4,6.5 V13" vector-effect="non-scaling-stroke"/><path d="M0.6,7 V14" vector-effect="non-scaling-stroke"/>

</g>
<g transform="translate(212.8,736) scale(1.0)" fill="none" stroke="#000" stroke-width="1">

<path d="M6.2,1.5 L8,0 H20.4 L22.8,1.9 L23.1,2.8 Q22.2,5.2 20.1,5.6 H8.3 L6.2,4.9 Z" vector-effect="non-scaling-stroke"/>
<path d="M6.5,4.9 Q6.3,2 9.6,0.9 H18.7 Q21.5,1.6 22,3.9" vector-effect="non-scaling-stroke"/>
<path d="M23.1,2.8 V11.1 L21.3,13.3 L19.4,14.2 H9.9 L9.3,13.3 H2.8 L2.2,14.2 H0 V6.2 L2.8,5.2 L5.2,4.6" vector-effect="non-scaling-stroke"/>
<path d="M5.9,5.2 V13" stroke-width="2" vector-effect="non-scaling-stroke"/><path d="M14.5,6.2 V16.4" stroke-width="3" vector-effect="non-scaling-stroke"/>
<path d="M16.4,6.5 V13.9" vector-effect="non-scaling-stroke"/><path d="M7.4,6.5 V13" vector-effect="non-scaling-stroke"/><path d="M0.6,7 V14" vector-effect="non-scaling-stroke"/>

</g>
<g transform="translate(900,1070) scale(0.0617283950617284)" fill="none" stroke="#000" stroke-width="1">

<path d="M150,450 L180,350 L280,300 L280,200 L350,130 H500 L670,260 V300" vector-effect="non-scaling-stroke"/>
<path d="M180,380 Q260,320 350,330 Q460,380 520,470 L450,530 L550,610 L730,720 V820" vector-effect="non-scaling-stroke"/>
<path d="M160,450 Q170,560 210,600 L330,700 L440,720 V620 L490,650 L720,810" vector-effect="non-scaling-stroke"/>
<path d="M330,300 L480,130" stroke-width="2" vector-effect="non-scaling-stroke"/><path d="M360,310 L510,140" vector-effect="non-scaling-stroke"/><path d="M460,340 L560,210" vector-effect="non-scaling-stroke"/><path d="M560,420 L670,290" vector-effect="non-scaling-stroke"/>
<path d="M600,370 L690,430 L850,560 L990,600 L900,760 L820,900 L740,860" vector-effect="non-scaling-stroke"/>
<path d="M620,380 L520,520 L560,580 L740,700" vector-effect="non-scaling-stroke"/><path d="M580,580 L680,460" vector-effect="non-scaling-stroke"/><path d="M730,680 L840,550" vector-effect="non-scaling-stroke"/><path d="M745,710 L880,580" stroke-width="2" vector-effect="non-scaling-stroke"/>
<path d="M950,680 L1120,780" vector-effect="non-scaling-stroke"/><path d="M900,760 L1120,910" vector-effect="non-scaling-stroke"/>
<path d="M1120,660 Q1140,590 1200,580 L1370,525 H1440 Q1480,540 1480,580 V1340 Q1460,1420 1400,1430 L1200,1480 Q1130,1460 1120,1420 Z" vector-effect="non-scaling-stroke"/>
<path d="M1150,700 V1440" vector-effect="non-scaling-stroke"/>
<ellipse cx="1320" cy="1000" rx="95" ry="120" transform="rotate(-20 1320 1000)" vector-effect="non-scaling-stroke"/>
<path d="M1260,1270 Q1280,1240 1370,1250 V1410 L1270,1440 Z" vector-effect="non-scaling-stroke"/><path d="M1290,1300 L1330,1290 V1340 L1290,1350 Z" stroke-width="2" vector-effect="non-scaling-stroke"/>
<path d="M1250,1020 L1360,1080 L1480,1170 L1620,1360" vector-effect="non-scaling-stroke"/><path d="M1310,930 L1480,1050 L1620,1190" vector-effect="non-scaling-stroke"/>

</g>
<g transform="translate(340,860) scale(0.25)" fill="none" stroke="#000" stroke-width="1">

<path d="M45,450 L75,355 Q90,320 120,312 L255,285 Q290,285 290,320 L265,395 Q230,440 200,448 L60,470 Q40,470 45,450 Z" vector-effect="non-scaling-stroke"/>
<circle cx="258" cy="318" r="14" vector-effect="non-scaling-stroke"/><circle cx="70" cy="435" r="14" vector-effect="non-scaling-stroke"/>
<path d="M100,350 Q95,335 115,335 L130,340 Q150,318 180,315 Q205,320 215,345 L235,355 Q240,375 225,380 Q210,420 185,440 Q150,450 125,430 L110,415 Q100,400 115,392 L100,375 Q95,362 110,355 Z" vector-effect="non-scaling-stroke"/>
<path d="M690,800 L735,680 Q745,655 775,650 L920,630 Q940,640 935,670 L910,735 V810 L770,835 V855 L760,830 L700,815 Q685,815 690,800 Z" vector-effect="non-scaling-stroke"/>
<ellipse cx="812" cy="728" rx="45" ry="55" vector-effect="non-scaling-stroke"/><circle cx="910" cy="660" r="14" vector-effect="non-scaling-stroke"/><circle cx="717" cy="780" r="14" vector-effect="non-scaling-stroke"/>
<path d="M1260,1150 Q1255,1120 1280,1090 L1350,1010 Q1380,985 1420,980 L1490,975 Q1520,990 1510,1020 L1480,1070 Q1450,1110 1420,1150 L1380,1185 L1290,1190 Q1260,1180 1260,1150 Z" vector-effect="non-scaling-stroke"/>
<ellipse cx="1390" cy="1075" rx="50" ry="70" vector-effect="non-scaling-stroke"/><circle cx="1485" cy="1020" r="14" vector-effect="non-scaling-stroke"/><circle cx="1290" cy="1140" r="14" vector-effect="non-scaling-stroke"/>

</g>
<g transform="translate(1124.4,402.2) scale(0.11102475852115022)" fill="none" stroke="#000" stroke-width="1">

<path d="M0,50 Q0,0 50,0 L90,10 Q110,30 105,70 L80,100 Q30,110 5,85 Z" stroke-width="1.5" vector-effect="non-scaling-stroke"/>
<path d="M50,30 Q30,40 40,75 L80,80" vector-effect="non-scaling-stroke"/><path d="M20,20 Q5,50 20,90" vector-effect="non-scaling-stroke"/>
<path d="M85,25 L140,60 M80,80 L125,105" vector-effect="non-scaling-stroke"/><ellipse cx="135" cy="85" rx="15" ry="22" stroke-width="2" vector-effect="non-scaling-stroke"/>
<circle cx="200" cy="120" r="30" stroke-width="1.5" vector-effect="non-scaling-stroke"/><circle cx="200" cy="120" r="10" stroke-width="1.5" vector-effect="non-scaling-stroke"/>

</g>
<g transform="translate(1104.9,445.5) scale(0.11102475852115022)" fill="none" stroke="#000" stroke-width="1">

<path d="M0,50 Q0,0 50,0 L90,10 Q110,30 105,70 L80,100 Q30,110 5,85 Z" stroke-width="1.5" vector-effect="non-scaling-stroke"/>
<path d="M50,30 Q30,40 40,75 L80,80" vector-effect="non-scaling-stroke"/><path d="M20,20 Q5,50 20,90" vector-effect="non-scaling-stroke"/>
<path d="M85,25 L140,60 M80,80 L125,105" vector-effect="non-scaling-stroke"/><ellipse cx="135" cy="85" rx="15" ry="22" stroke-width="2" vector-effect="non-scaling-stroke"/>
<circle cx="200" cy="120" r="30" stroke-width="1.5" vector-effect="non-scaling-stroke"/><circle cx="200" cy="120" r="10" stroke-width="1.5" vector-effect="non-scaling-stroke"/>

</g>
<g transform="translate(1048.9,462.1) scale(0.11102475852115022)" fill="none" stroke="#000" stroke-width="1">

<path d="M0,50 Q0,0 50,0 L90,10 Q110,30 105,70 L80,100 Q30,110 5,85 Z" stroke-width="1.5" vector-effect="non-scaling-stroke"/>
<path d="M50,30 Q30,40 40,75 L80,80" vector-effect="non-scaling-stroke"/><path d="M20,20 Q5,50 20,90" vector-effect="non-scaling-stroke"/>
<path d="M85,25 L140,60 M80,80 L125,105" vector-effect="non-scaling-stroke"/><ellipse cx="135" cy="85" rx="15" ry="22" stroke-width="2" vector-effect="non-scaling-stroke"/>
<circle cx="200" cy="120" r="30" stroke-width="1.5" vector-effect="non-scaling-stroke"/><circle cx="200" cy="120" r="10" stroke-width="1.5" vector-effect="non-scaling-stroke"/>

</g>
<g transform="translate(1000,320) scale(0.25)" fill="none" stroke="#000" stroke-width="1">

<path d="M1290,250 Q1330,222 1365,218 L1515,270 L1570,305 L1525,322 L1440,340 L1380,348 L1375,330 L1290,315 L1260,290" vector-effect="non-scaling-stroke"/>
<path d="M1300,262 Q1340,235 1380,240 L1450,270 Q1460,300 1420,305 L1320,290 Z" vector-effect="non-scaling-stroke"/><circle cx="1475" cy="285" r="8" vector-effect="non-scaling-stroke"/>
<path d="M1255,300 L1370,335" vector-effect="non-scaling-stroke"/><path d="M1520,275 V300" vector-effect="non-scaling-stroke"/>
<path d="M1240,695 L1255,680 L1275,685 L1280,705 L1265,722 L1245,718 Z" stroke-width="1.5" vector-effect="non-scaling-stroke"/><circle cx="1260" cy="702" r="8" vector-effect="non-scaling-stroke"/>
<path d="M1220,900 Q1240,860 1300,845 L1230,1000 L1222,990 Q1218,950 1220,900 Z" vector-effect="non-scaling-stroke"/><circle cx="1255" cy="905" r="10" vector-effect="non-scaling-stroke"/>
<path d="M1230,995 L1465,1110 V1330 L1545,1300" vector-effect="non-scaling-stroke"/><path d="M1475,1115 V1325" vector-effect="non-scaling-stroke"/><circle cx="1500" cy="1140" r="4" vector-effect="non-scaling-stroke"/>
<path d="M1310,925 L1350,945" vector-effect="non-scaling-stroke"/><ellipse cx="1360" cy="950" rx="14" ry="18" stroke-width="1.5" vector-effect="non-scaling-stroke"/><path d="M1310,935 L1345,955" vector-effect="non-scaling-stroke"/>
<path d="M1362,740 Q1380,725 1400,735 L1450,760 L1620,790" vector-effect="non-scaling-stroke"/><path d="M1375,735 L1395,820 Q1360,850 1310,865" vector-effect="non-scaling-stroke"/>

</g>
<g transform="translate(1140,370) scale(0.11719207781553968)" fill="none" stroke="#000" stroke-width="1">

<path d="M100,875 L420,420 Q480,370 600,350" vector-effect="non-scaling-stroke"/><path d="M100,875 L570,1090" vector-effect="non-scaling-stroke"/>
<path d="M600,350 V290 Q620,265 680,250 L1150,100 Q1250,75 1400,80 L1536,90" vector-effect="non-scaling-stroke"/>
<path d="M680,300 L1200,130 L1390,125 L1490,130" vector-effect="non-scaling-stroke"/><path d="M690,312 L1210,142" vector-effect="non-scaling-stroke"/><path d="M1220,125 L1390,133" stroke-width="2" vector-effect="non-scaling-stroke"/>
<path d="M600,350 Q640,380 660,400 Q700,470 780,500 L910,500 L880,550" vector-effect="non-scaling-stroke"/>
<path d="M680,300 Q730,320 740,380 Q760,430 800,440 L910,500" vector-effect="non-scaling-stroke"/><path d="M690,460 Q730,510 800,520" vector-effect="non-scaling-stroke"/>
<path d="M790,410 Q840,330 890,320 H1075 Q1090,340 1085,400 L980,570 Q930,640 840,650 L740,640 Q720,600 740,560 Q760,530 830,520 L880,550" vector-effect="non-scaling-stroke"/>
<path d="M950,570 Q970,480 1070,370" vector-effect="non-scaling-stroke"/><path d="M730,620 Q790,540 860,535" vector-effect="non-scaling-stroke"/>
<path d="M740,640 Q690,680 700,730 L745,745 L570,1090" vector-effect="non-scaling-stroke"/><path d="M690,745 L540,1040" vector-effect="non-scaling-stroke"/>
<path d="M500,860 Q510,810 560,810 Q620,810 680,745 L530,1040 L540,990 Q520,940 530,900 Q500,880 500,860 Z" vector-effect="non-scaling-stroke"/><circle cx="570" cy="870" r="18" vector-effect="non-scaling-stroke"/>
<path d="M1215,290 Q1230,240 1300,230 L1470,190 L1500,120" vector-effect="non-scaling-stroke"/><path d="M1190,240 Q1270,185 1330,175 L1480,175" vector-effect="non-scaling-stroke"/>
<path d="M1215,290 V690 L1130,800 Q1080,860 1090,980 Q1100,1060 1120,1100" vector-effect="non-scaling-stroke"/>
<path d="M1500,300 V860 L1150,960 V820 L650,960" vector-effect="non-scaling-stroke"/>
<path d="M1150,960 Q1180,980 1260,975 Q1300,990 1310,1020 Q1330,1045 1370,1040 L1395,990 V900" vector-effect="non-scaling-stroke"/><circle cx="1350" cy="995" r="18" vector-effect="non-scaling-stroke"/>
<path d="M1120,1100 Q1160,1160 1220,1190 L1275,1230 V1370 L540,1595 L525,1450 Q490,1330 450,1320 L210,1300 Q170,1300 60,1350 L160,920" vector-effect="non-scaling-stroke"/>
<path d="M80,1340 L185,925" vector-effect="non-scaling-stroke"/>
<path d="M235,1220 L470,1340 Q500,1380 505,1420 L530,1450 L540,1500 L1275,1280" vector-effect="non-scaling-stroke"/><path d="M600,1490 V1580" vector-effect="non-scaling-stroke"/>
<circle cx="710" cy="1500" r="20" vector-effect="non-scaling-stroke"/><circle cx="1185" cy="1360" r="20" vector-effect="non-scaling-stroke"/>
<path d="M175,960 Q180,930 220,930 Q280,960 270,1000 Q250,1030 200,1020 Q170,1000 175,960 Z" vector-effect="non-scaling-stroke"/><circle cx="255" cy="995" r="12" vector-effect="non-scaling-stroke"/>

</g>
<g transform="translate(1215,320) scale(0.25)" fill="none" stroke="#000" stroke-width="1">

<path d="M510,730 L535,720 L740,780 L1060,690 L1075,700" vector-effect="non-scaling-stroke"/><path d="M520,745 L740,800 L1065,715" vector-effect="non-scaling-stroke"/>
<path d="M510,730 L525,790 Q510,830 450,840" vector-effect="non-scaling-stroke"/>
<path d="M1252,1040 Q1250,1080 1200,1100 Q1170,1110 1140,1110 L1020,1150 L870,1195 L830,1195 L770,1170" vector-effect="non-scaling-stroke"/><path d="M1310,1160 L1350,1150 V1100" vector-effect="non-scaling-stroke"/>
<path d="M740,795 Q770,850 780,880" vector-effect="non-scaling-stroke"/>
<path d="M1150,1210 L1310,1155 V1225 L1295,1240 Q1270,1230 1250,1210 L1160,1225 Z" vector-effect="non-scaling-stroke"/><circle cx="1295" cy="1215" r="10" vector-effect="non-scaling-stroke"/>
<path d="M1015,1150 Q995,1200 1010,1280 Q1040,1360 1075,1387 L1098,1416 L1116,1594 L1128,1692 L977,1733 L965,1677 L755,1733 L743,1683" vector-effect="non-scaling-stroke"/><path d="M743,1683 L760,1730" vector-effect="non-scaling-stroke"/><path d="M1025,1150 Q1010,1200 1022,1275 Q1050,1350 1085,1380" vector-effect="non-scaling-stroke"/>
<path d="M660,1322 L672,1404 L725,1505 L737,1535 L743,1683" stroke-width="2" vector-effect="non-scaling-stroke"/>
<path d="M1020,1140 V1175" vector-effect="non-scaling-stroke"/><circle cx="997" cy="1538" r="47" vector-effect="non-scaling-stroke"/><ellipse cx="1002" cy="1540" rx="16" ry="24" stroke-width="2" vector-effect="non-scaling-stroke"/><path d="M955,1560 L942,1600" vector-effect="non-scaling-stroke"/>
<ellipse cx="1210" cy="1245" rx="20" ry="20" stroke-width="1.5" vector-effect="non-scaling-stroke"/><circle cx="1210" cy="1245" r="6" vector-effect="non-scaling-stroke"/>
<ellipse cx="1375" cy="1252" rx="9" ry="10" stroke-width="1.5" vector-effect="non-scaling-stroke"/>
<path d="M1430,1280 L1450,1280 M1428,1295 L1450,1300" vector-effect="non-scaling-stroke"/><ellipse cx="1468" cy="1295" rx="20" ry="20" stroke-width="1.5" vector-effect="non-scaling-stroke"/><path d="M1460,1285 Q1470,1295 1462,1310" vector-effect="non-scaling-stroke"/>

</g>
<g transform="translate(1420,440) scale(0.08643042350907519)" fill="none" stroke="#000" stroke-width="1">

<path d="M400,380 Q490,330 540,250 Q560,215 620,215 L700,225 Q750,225 770,270 V360 L530,440" vector-effect="non-scaling-stroke"/><ellipse cx="630" cy="300" rx="25" ry="35" stroke-width="1.5" vector-effect="non-scaling-stroke"/>
<path d="M600,250 Q570,270 540,320 Q510,370 430,390" vector-effect="non-scaling-stroke"/>
<path d="M250,380 L310,330 L420,380 L720,530 Q730,560 700,580 L640,600 L630,640 L550,620 L240,460 Q230,440 250,430 L290,400" vector-effect="non-scaling-stroke"/>
<path d="M270,440 L560,620" vector-effect="non-scaling-stroke"/><path d="M250,390 L580,560" vector-effect="non-scaling-stroke"/>
<path d="M0,850 L610,650 Q700,620 740,540 V900" vector-effect="non-scaling-stroke"/><path d="M0,900 L620,700 Q720,680 740,620" vector-effect="non-scaling-stroke"/><path d="M0,990 L700,760 V920" stroke-width="1.5" vector-effect="non-scaling-stroke"/>
<path d="M480,1000 Q640,1200 680,1440" vector-effect="non-scaling-stroke"/>
<path d="M770,280 L1050,410 Q1250,560 1350,850 Q1480,1150 1520,1450 L1535,1940" vector-effect="non-scaling-stroke"/>
<path d="M780,300 L1030,430 Q1230,600 1320,900 Q1440,1200 1480,1500 V1950" vector-effect="non-scaling-stroke"/>
<path d="M1000,500 Q1180,700 1300,1000 Q1400,1300 1420,1620 L1430,1960" vector-effect="non-scaling-stroke"/>
<path d="M740,550 Q900,620 980,700 Q1030,780 1030,900 Q1060,1000 1180,1240 Q1290,1380 1280,1620 Q1280,1700 1260,1750" vector-effect="non-scaling-stroke"/>
<path d="M820,380 L900,430 M810,400 L880,450" vector-effect="non-scaling-stroke"/><ellipse cx="970" cy="455" rx="40" ry="50" stroke-width="1.5" vector-effect="non-scaling-stroke"/><path d="M930,430 Q915,470 950,500" vector-effect="non-scaling-stroke"/>

</g>
<g transform="translate(980,550) scale(0.25)" fill="none" stroke="#000" stroke-width="1">

<path d="M440,600 L800,460 M440,600 L450,690 M800,460 L800,545" vector-effect="non-scaling-stroke"/>
<path d="M330,915 L250,945" vector-effect="non-scaling-stroke"/>
<polygon points="110,864 95,874 80,864 80,846 95,836 110,846" stroke-width="1.5" vector-effect="non-scaling-stroke"/><circle cx="95" cy="855" r="9" vector-effect="non-scaling-stroke"/>
<path d="M110,863 L141,855 L138,839 L107,847" vector-effect="non-scaling-stroke"/>
<polygon points="203,1044 188,1054 173,1044 173,1026 188,1016 203,1026" stroke-width="1.5" vector-effect="non-scaling-stroke"/><circle cx="188" cy="1035" r="9" vector-effect="non-scaling-stroke"/>
<path d="M203,1043 L234,1035 L231,1019 L200,1027" vector-effect="non-scaling-stroke"/>


</g>
<g transform="translate(1040,660) scale(0.1111111111111111)" fill="none" stroke="#000" stroke-width="1">

<ellipse cx="358" cy="940" rx="185" ry="305" transform="rotate(-22 358 940)" vector-effect="non-scaling-stroke"/>
<ellipse cx="362" cy="940" rx="172" ry="292" transform="rotate(-22 362 940)" vector-effect="non-scaling-stroke"/>
<path d="M265,640 L600,505" vector-effect="non-scaling-stroke"/><path d="M520,1215 L840,1080" vector-effect="non-scaling-stroke"/>
<path d="M600,500 Q650,410 760,400 Q900,430 980,560 Q1060,700 1062,880 Q1050,1040 960,1090 Q900,1110 840,1080" vector-effect="non-scaling-stroke"/>
<path d="M790,410 Q930,450 1010,600 Q1048,720 1048,880 Q1030,1020 950,1075" vector-effect="non-scaling-stroke"/>
<path d="M600,490 Q680,450 760,455 Q950,520 1020,800 Q1020,990 960,1030" vector-effect="non-scaling-stroke"/>
<path d="M195,865 L345,815 L380,945 L230,1000 Z" vector-effect="non-scaling-stroke"/><path d="M550,850 L700,795 L735,930 L585,985 Z" vector-effect="non-scaling-stroke"/><path d="M650,815 L700,920" vector-effect="non-scaling-stroke"/>
<path d="M375,640 L510,585 L600,640 L455,700 Z" vector-effect="non-scaling-stroke"/><path d="M310,1140 L460,1080 L520,1130 L400,1200 Z" vector-effect="non-scaling-stroke"/>
<path d="M550,1175 L720,1085 L680,1140 L540,1195" vector-effect="non-scaling-stroke"/><path d="M850,1060 L985,975 L960,1030 L840,1080" vector-effect="non-scaling-stroke"/><path d="M200,735 L330,680" vector-effect="non-scaling-stroke"/>
<ellipse cx="1300" cy="585" rx="228" ry="362" transform="rotate(-15 1300 585)" vector-effect="non-scaling-stroke"/>
<path d="M1330,250 Q1500,380 1535,620 Q1540,800 1470,880"  vector-effect="non-scaling-stroke"/>
<path d="M1270,300 Q1300,285 1320,310 L1330,440 Q1350,520 1390,570 Q1470,600 1480,650 Q1490,710 1460,715 L1400,690 Q1350,710 1330,760 L1320,860 Q1310,890 1290,880 Q1260,860 1255,820 L1250,700 Q1200,620 1190,590 Q1130,560 1110,530 Q1090,490 1110,460 Q1140,440 1190,480 Q1250,450 1270,410 Z" vector-effect="non-scaling-stroke"/>
<ellipse cx="1190" cy="390" rx="18" ry="25" stroke-width="1.5" vector-effect="non-scaling-stroke"/><ellipse cx="1395" cy="785" rx="18" ry="25" stroke-width="1.5" vector-effect="non-scaling-stroke"/>

</g>
<g transform="translate(1195,585) scale(0.1111111111111111)" fill="none" stroke="#000" stroke-width="1">

<path d="M320,260 V200 Q330,185 450,150 L690,68 Q712,75 700,105 L600,135 Q540,165 500,230 Q488,260 490,300 V390 L585,405 L590,430" vector-effect="non-scaling-stroke"/>
<path d="M450,150 Q410,190 395,260 V385 L490,395" vector-effect="non-scaling-stroke"/>
<path d="M320,260 L240,285 Q222,300 225,330 V500 L265,515 L430,500 L480,495" vector-effect="non-scaling-stroke"/>
<path d="M300,270 V420 L330,435 L580,430 L700,540" vector-effect="non-scaling-stroke"/>
<path d="M600,135 L820,85 Q842,95 835,120 L780,220" vector-effect="non-scaling-stroke"/>
<path d="M590,440 Q600,350 700,250 Q760,220 850,205 L960,170 Q985,180 975,205 L880,235 Q870,260 875,350" vector-effect="non-scaling-stroke"/>
<path d="M700,540 Q740,470 800,400 L860,370 L1090,310 Q1110,320 1100,335 L1080,345" vector-effect="non-scaling-stroke"/>
<path d="M975,205 L1050,300" vector-effect="non-scaling-stroke"/><path d="M865,395 L985,375 Q975,420 975,500" vector-effect="non-scaling-stroke"/>
<path d="M690,545 L830,550 L1200,490 Q1210,500 1205,515 L1180,520 L1250,660" vector-effect="non-scaling-stroke"/>
<path d="M1080,345 L1160,470" vector-effect="non-scaling-stroke"/><path d="M900,570 L1060,545 L1030,690" vector-effect="non-scaling-stroke"/>
<path d="M770,620 Q790,580 830,560" vector-effect="non-scaling-stroke"/><path d="M770,625 Q790,660 930,670 L990,700" vector-effect="non-scaling-stroke"/>
<path d="M830,755 Q850,735 930,720 L1220,660 Q1290,680 1285,710 L1050,760 L940,760 Q840,790 830,755 Z" vector-effect="non-scaling-stroke"/>
<path d="M930,760 L1120,740 L1150,830 M1100,760 L1050,850" vector-effect="non-scaling-stroke"/><path d="M945,820 V1100" vector-effect="non-scaling-stroke"/>
<path d="M870,930 Q880,905 950,890 L1160,840 Q1320,890 1320,930 L1060,970 L880,950 Z" vector-effect="non-scaling-stroke"/>
<path d="M1280,730 L1300,900 M1300,960 V1070" vector-effect="non-scaling-stroke"/><path d="M1050,965 V1020 L1160,1010 V960" vector-effect="non-scaling-stroke"/>
<path d="M870,1090 Q880,1065 940,1050 L1000,1030 L1170,1010 Q1320,1060 1320,1130 L1080,1170 Q1020,1110 960,1110 Z" vector-effect="non-scaling-stroke"/>
<path d="M860,1220 L990,1160 Q1070,1250 1160,1340 L1290,1300 Q1290,1210 1260,1170" vector-effect="non-scaling-stroke"/>
<path d="M810,1330 Q880,1260 900,1270 L980,1320 Q1030,1400 1080,1500 L1215,1440 L1220,1380 L1170,1340" vector-effect="non-scaling-stroke"/>
<path d="M735,1410 Q790,1360 800,1355 L840,1420 L960,1510 Q1030,1530 1110,1500 L1100,1580 L880,1620" vector-effect="non-scaling-stroke"/>
<path d="M645,1460 Q660,1430 730,1400 L770,1500 L800,1620" vector-effect="non-scaling-stroke"/>
<path d="M130,630 Q150,610 380,595 L560,590 Q600,600 590,640 L410,660 L220,720 Q160,740 150,700 Z" vector-effect="non-scaling-stroke"/>
<path d="M380,600 V650 M410,600 L420,655 M440,600 V650" vector-effect="non-scaling-stroke"/>
<path d="M140,840 Q150,820 380,760 L540,710 L580,720 Q560,780 500,800 L180,890 Q150,880 140,840 Z" vector-effect="non-scaling-stroke"/>
<path d="M380,720 V800 M420,710 V790" vector-effect="non-scaling-stroke"/>
<path d="M185,1050 Q200,1030 450,960 Q520,940 560,890 Q590,850 585,815" vector-effect="non-scaling-stroke"/>
<path d="M185,1050 Q200,1100 225,1100 L450,1040 Q560,1000 590,920" vector-effect="non-scaling-stroke"/><path d="M400,880 V940 M440,870 V930" vector-effect="non-scaling-stroke"/>
<path d="M255,1250 Q280,1170 400,1130 L550,1050 Q620,990 630,900" vector-effect="non-scaling-stroke"/>
<path d="M255,1250 Q270,1280 300,1270 L470,1220 Q620,1140 650,1000" vector-effect="non-scaling-stroke"/>
<path d="M355,1320 Q400,1280 450,1260 L560,1200 Q670,1100 680,990" vector-effect="non-scaling-stroke"/>
<path d="M365,1420 L450,1400 L660,1260 Q730,1170 740,1100" vector-effect="non-scaling-stroke"/>
<path d="M450,1410 L490,1560 L560,1550 L580,1480 Q600,1430 720,1340 L780,1200" vector-effect="non-scaling-stroke"/>
<path d="M555,1440 L620,1620" vector-effect="non-scaling-stroke"/><path d="M650,1460 L700,1560" vector-effect="non-scaling-stroke"/>
<path d="M650,590 V980 Q700,1100 880,1160" vector-effect="non-scaling-stroke"/><path d="M668,585 V975 Q720,1080 870,1140" vector-effect="non-scaling-stroke"/><path d="M645,600 L700,540" vector-effect="non-scaling-stroke"/>
<path d="M665,990 L690,1130 L700,1240" vector-effect="non-scaling-stroke"/><path d="M700,1080 L760,1200 L800,1330" vector-effect="non-scaling-stroke"/><path d="M740,1110 L820,1220 L860,1300" vector-effect="non-scaling-stroke"/>

</g>
<g transform="translate(890,940) scale(0.25)" fill="none" stroke="#000" stroke-width="1">
<polygon points="508,800 492,810 476,800 476,780 492,770 508,780" stroke-width="1.5" vector-effect="non-scaling-stroke"/><circle cx="492" cy="790" r="10" vector-effect="non-scaling-stroke"/>
<path d="M508,798 L543,787 L539,772 L505,782" vector-effect="non-scaling-stroke"/><polygon points="356,1230 340,1240 324,1230 324,1210 340,1200 356,1210" stroke-width="1.5" vector-effect="non-scaling-stroke"/><circle cx="340" cy="1220" r="10" vector-effect="non-scaling-stroke"/>
<path d="M356,1228 L391,1217 L387,1202 L353,1212" vector-effect="non-scaling-stroke"/><polygon points="638,1405 622,1415 606,1405 606,1385 622,1375 638,1385" stroke-width="1.5" vector-effect="non-scaling-stroke"/><circle cx="622" cy="1395" r="10" vector-effect="non-scaling-stroke"/>
<path d="M638,1403 L673,1392 L669,1377 L635,1387" vector-effect="non-scaling-stroke"/><polygon points="1042,501 1025,512 1008,501 1008,479 1025,468 1042,479" stroke-width="1.5" vector-effect="non-scaling-stroke"/><circle cx="1025" cy="490" r="11" vector-effect="non-scaling-stroke"/>
<path d="M1043,498 L1120,478 L1116,462 L1039,482" vector-effect="non-scaling-stroke"/><path d="M1147,439 Q1140,452 1147,462 L1175,455 M1147,439 L1175,432" vector-effect="non-scaling-stroke"/><ellipse cx="1177" cy="444" rx="9" ry="12" stroke-width="1.5" vector-effect="non-scaling-stroke"/><polygon points="1317,1331 1300,1342 1283,1331 1283,1309 1300,1298 1317,1309" stroke-width="1.5" vector-effect="non-scaling-stroke"/><circle cx="1300" cy="1320" r="11" vector-effect="non-scaling-stroke"/>
<path d="M1318,1328 L1395,1308 L1391,1292 L1314,1312" vector-effect="non-scaling-stroke"/><path d="M1422,1272 Q1415,1285 1422,1295 L1450,1288 M1422,1272 L1450,1265" vector-effect="non-scaling-stroke"/><ellipse cx="1452" cy="1277" rx="9" ry="12" stroke-width="1.5" vector-effect="non-scaling-stroke"/><polygon points="1321,85 1305,95 1289,85 1289,65 1305,55 1321,65" stroke-width="1.5" vector-effect="non-scaling-stroke"/><circle cx="1305" cy="75" r="10" vector-effect="non-scaling-stroke"/>
<path d="M1317,83 L1345,98 L1350,83 L1322,67" vector-effect="non-scaling-stroke"/>
<path d="M350,760 Q420,760 455,840 Q490,920 490,985" vector-effect="non-scaling-stroke"/><path d="M350,790 Q400,790 435,850 Q470,920 485,980" vector-effect="non-scaling-stroke"/>

</g>
<g transform="translate(1005,1110) scale(0.1172332942555686)" fill="none" stroke="#000" stroke-width="1">
<path d="M60,700 Q60,450 150,300 Q250,130 450,45 Q600,30 720,90 L920,320 Q1050,480 1090,560 Q1130,700 1140,900 Q1150,1150 1100,1350 Q1050,1500 900,1550 Q780,1560 700,1520 Q500,1440 320,1300 Q150,1150 80,900 Z" vector-effect="non-scaling-stroke"/>
<ellipse cx="445" cy="865" rx="330" ry="630" transform="rotate(-25 445 865)" vector-effect="non-scaling-stroke"/>
<path d="M633,798 L714,771" stroke-width="5.5" stroke-linecap="round" vector-effect="non-scaling-stroke"/>
<path d="M633,798 L714,771" stroke="#fff" stroke-width="3" stroke-linecap="round" vector-effect="non-scaling-stroke"/>
<path d="M657,862 L750,866" stroke-width="5.5" stroke-linecap="round" vector-effect="non-scaling-stroke"/>
<path d="M657,862 L750,866" stroke="#fff" stroke-width="3" stroke-linecap="round" vector-effect="non-scaling-stroke"/>
<path d="M673,925 L776,961" stroke-width="5.5" stroke-linecap="round" vector-effect="non-scaling-stroke"/>
<path d="M673,925 L776,961" stroke="#fff" stroke-width="3" stroke-linecap="round" vector-effect="non-scaling-stroke"/>
<path d="M682,987 L790,1053" stroke-width="5.5" stroke-linecap="round" vector-effect="non-scaling-stroke"/>
<path d="M682,987 L790,1053" stroke="#fff" stroke-width="3" stroke-linecap="round" vector-effect="non-scaling-stroke"/>
<path d="M682,1045 L792,1139" stroke-width="5.5" stroke-linecap="round" vector-effect="non-scaling-stroke"/>
<path d="M682,1045 L792,1139" stroke="#fff" stroke-width="3" stroke-linecap="round" vector-effect="non-scaling-stroke"/>
<path d="M674,1097 L782,1215" stroke-width="5.5" stroke-linecap="round" vector-effect="non-scaling-stroke"/>
<path d="M674,1097 L782,1215" stroke="#fff" stroke-width="3" stroke-linecap="round" vector-effect="non-scaling-stroke"/>
<path d="M658,1141 L760,1280" stroke-width="5.5" stroke-linecap="round" vector-effect="non-scaling-stroke"/>
<path d="M658,1141 L760,1280" stroke="#fff" stroke-width="3" stroke-linecap="round" vector-effect="non-scaling-stroke"/>
<path d="M634,1175 L728,1330" stroke-width="5.5" stroke-linecap="round" vector-effect="non-scaling-stroke"/>
<path d="M634,1175 L728,1330" stroke="#fff" stroke-width="3" stroke-linecap="round" vector-effect="non-scaling-stroke"/>
<path d="M604,1199 L685,1365" stroke-width="5.5" stroke-linecap="round" vector-effect="non-scaling-stroke"/>
<path d="M604,1199 L685,1365" stroke="#fff" stroke-width="3" stroke-linecap="round" vector-effect="non-scaling-stroke"/>
<path d="M568,1212 L635,1383" stroke-width="5.5" stroke-linecap="round" vector-effect="non-scaling-stroke"/>
<path d="M568,1212 L635,1383" stroke="#fff" stroke-width="3" stroke-linecap="round" vector-effect="non-scaling-stroke"/>
<path d="M528,1213 L578,1384" stroke-width="5.5" stroke-linecap="round" vector-effect="non-scaling-stroke"/>
<path d="M528,1213 L578,1384" stroke="#fff" stroke-width="3" stroke-linecap="round" vector-effect="non-scaling-stroke"/>
<path d="M485,1203 L516,1367" stroke-width="5.5" stroke-linecap="round" vector-effect="non-scaling-stroke"/>
<path d="M485,1203 L516,1367" stroke="#fff" stroke-width="3" stroke-linecap="round" vector-effect="non-scaling-stroke"/>
<path d="M441,1181 L451,1332" stroke-width="5.5" stroke-linecap="round" vector-effect="non-scaling-stroke"/>
<path d="M441,1181 L451,1332" stroke="#fff" stroke-width="3" stroke-linecap="round" vector-effect="non-scaling-stroke"/>
<path d="M396,1148 L386,1282" stroke-width="5.5" stroke-linecap="round" vector-effect="non-scaling-stroke"/>
<path d="M396,1148 L386,1282" stroke="#fff" stroke-width="3" stroke-linecap="round" vector-effect="non-scaling-stroke"/>
<path d="M353,1106 L323,1218" stroke-width="5.5" stroke-linecap="round" vector-effect="non-scaling-stroke"/>
<path d="M353,1106 L323,1218" stroke="#fff" stroke-width="3" stroke-linecap="round" vector-effect="non-scaling-stroke"/>
<path d="M313,1056 L264,1142" stroke-width="5.5" stroke-linecap="round" vector-effect="non-scaling-stroke"/>
<path d="M313,1056 L264,1142" stroke="#fff" stroke-width="3" stroke-linecap="round" vector-effect="non-scaling-stroke"/>
<path d="M277,999 L211,1057" stroke-width="5.5" stroke-linecap="round" vector-effect="non-scaling-stroke"/>
<path d="M277,999 L211,1057" stroke="#fff" stroke-width="3" stroke-linecap="round" vector-effect="non-scaling-stroke"/>
<path d="M247,938 L166,965" stroke-width="5.5" stroke-linecap="round" vector-effect="non-scaling-stroke"/>
<path d="M247,938 L166,965" stroke="#fff" stroke-width="3" stroke-linecap="round" vector-effect="non-scaling-stroke"/>
<path d="M223,874 L130,870" stroke-width="5.5" stroke-linecap="round" vector-effect="non-scaling-stroke"/>
<path d="M223,874 L130,870" stroke="#fff" stroke-width="3" stroke-linecap="round" vector-effect="non-scaling-stroke"/>
<path d="M207,811 L104,775" stroke-width="5.5" stroke-linecap="round" vector-effect="non-scaling-stroke"/>
<path d="M207,811 L104,775" stroke="#fff" stroke-width="3" stroke-linecap="round" vector-effect="non-scaling-stroke"/>
<path d="M198,749 L90,683" stroke-width="5.5" stroke-linecap="round" vector-effect="non-scaling-stroke"/>
<path d="M198,749 L90,683" stroke="#fff" stroke-width="3" stroke-linecap="round" vector-effect="non-scaling-stroke"/>
<path d="M198,691 L88,597" stroke-width="5.5" stroke-linecap="round" vector-effect="non-scaling-stroke"/>
<path d="M198,691 L88,597" stroke="#fff" stroke-width="3" stroke-linecap="round" vector-effect="non-scaling-stroke"/>
<path d="M206,639 L98,521" stroke-width="5.5" stroke-linecap="round" vector-effect="non-scaling-stroke"/>
<path d="M206,639 L98,521" stroke="#fff" stroke-width="3" stroke-linecap="round" vector-effect="non-scaling-stroke"/>
<path d="M222,595 L120,456" stroke-width="5.5" stroke-linecap="round" vector-effect="non-scaling-stroke"/>
<path d="M222,595 L120,456" stroke="#fff" stroke-width="3" stroke-linecap="round" vector-effect="non-scaling-stroke"/>
<path d="M246,561 L152,406" stroke-width="5.5" stroke-linecap="round" vector-effect="non-scaling-stroke"/>
<path d="M246,561 L152,406" stroke="#fff" stroke-width="3" stroke-linecap="round" vector-effect="non-scaling-stroke"/>
<path d="M276,537 L195,371" stroke-width="5.5" stroke-linecap="round" vector-effect="non-scaling-stroke"/>
<path d="M276,537 L195,371" stroke="#fff" stroke-width="3" stroke-linecap="round" vector-effect="non-scaling-stroke"/>
<path d="M312,524 L245,353" stroke-width="5.5" stroke-linecap="round" vector-effect="non-scaling-stroke"/>
<path d="M312,524 L245,353" stroke="#fff" stroke-width="3" stroke-linecap="round" vector-effect="non-scaling-stroke"/>
<path d="M352,523 L302,352" stroke-width="5.5" stroke-linecap="round" vector-effect="non-scaling-stroke"/>
<path d="M352,523 L302,352" stroke="#fff" stroke-width="3" stroke-linecap="round" vector-effect="non-scaling-stroke"/>
<path d="M395,533 L364,369" stroke-width="5.5" stroke-linecap="round" vector-effect="non-scaling-stroke"/>
<path d="M395,533 L364,369" stroke="#fff" stroke-width="3" stroke-linecap="round" vector-effect="non-scaling-stroke"/>
<path d="M439,555 L429,404" stroke-width="5.5" stroke-linecap="round" vector-effect="non-scaling-stroke"/>
<path d="M439,555 L429,404" stroke="#fff" stroke-width="3" stroke-linecap="round" vector-effect="non-scaling-stroke"/>
<path d="M484,588 L494,454" stroke-width="5.5" stroke-linecap="round" vector-effect="non-scaling-stroke"/>
<path d="M484,588 L494,454" stroke="#fff" stroke-width="3" stroke-linecap="round" vector-effect="non-scaling-stroke"/>
<path d="M527,630 L557,518" stroke-width="5.5" stroke-linecap="round" vector-effect="non-scaling-stroke"/>
<path d="M527,630 L557,518" stroke="#fff" stroke-width="3" stroke-linecap="round" vector-effect="non-scaling-stroke"/>
<path d="M567,680 L616,594" stroke-width="5.5" stroke-linecap="round" vector-effect="non-scaling-stroke"/>
<path d="M567,680 L616,594" stroke="#fff" stroke-width="3" stroke-linecap="round" vector-effect="non-scaling-stroke"/>
<path d="M603,737 L669,679" stroke-width="5.5" stroke-linecap="round" vector-effect="non-scaling-stroke"/>
<path d="M603,737 L669,679" stroke="#fff" stroke-width="3" stroke-linecap="round" vector-effect="non-scaling-stroke"/>
<path d="M580,330 L680,420" stroke-width="7" stroke-linecap="round" vector-effect="non-scaling-stroke"/>
<path d="M580,330 L680,420" stroke="#fff" stroke-width="4.5" stroke-linecap="round" vector-effect="non-scaling-stroke"/>
<path d="M650,270 L760,360" stroke-width="7" stroke-linecap="round" vector-effect="non-scaling-stroke"/>
<path d="M650,270 L760,360" stroke="#fff" stroke-width="4.5" stroke-linecap="round" vector-effect="non-scaling-stroke"/>
<path d="M720,225 L820,310" stroke-width="7" stroke-linecap="round" vector-effect="non-scaling-stroke"/>
<path d="M720,225 L820,310" stroke="#fff" stroke-width="4.5" stroke-linecap="round" vector-effect="non-scaling-stroke"/>
<path d="M710,480 L780,600" stroke-width="7" stroke-linecap="round" vector-effect="non-scaling-stroke"/>
<path d="M710,480 L780,600" stroke="#fff" stroke-width="4.5" stroke-linecap="round" vector-effect="non-scaling-stroke"/>
<path d="M790,430 L870,560" stroke-width="7" stroke-linecap="round" vector-effect="non-scaling-stroke"/>
<path d="M790,430 L870,560" stroke="#fff" stroke-width="4.5" stroke-linecap="round" vector-effect="non-scaling-stroke"/>
<path d="M860,390 L950,520" stroke-width="7" stroke-linecap="round" vector-effect="non-scaling-stroke"/>
<path d="M860,390 L950,520" stroke="#fff" stroke-width="4.5" stroke-linecap="round" vector-effect="non-scaling-stroke"/>
<path d="M860,860 L870,990" stroke-width="7" stroke-linecap="round" vector-effect="non-scaling-stroke"/>
<path d="M860,860 L870,990" stroke="#fff" stroke-width="4.5" stroke-linecap="round" vector-effect="non-scaling-stroke"/>
<path d="M940,830 L950,990" stroke-width="7" stroke-linecap="round" vector-effect="non-scaling-stroke"/>
<path d="M940,830 L950,990" stroke="#fff" stroke-width="4.5" stroke-linecap="round" vector-effect="non-scaling-stroke"/>
<path d="M1020,810 L1040,980" stroke-width="7" stroke-linecap="round" vector-effect="non-scaling-stroke"/>
<path d="M1020,810 L1040,980" stroke="#fff" stroke-width="4.5" stroke-linecap="round" vector-effect="non-scaling-stroke"/>
<path d="M860,1080 L870,1210" stroke-width="7" stroke-linecap="round" vector-effect="non-scaling-stroke"/>
<path d="M860,1080 L870,1210" stroke="#fff" stroke-width="4.5" stroke-linecap="round" vector-effect="non-scaling-stroke"/>
<path d="M940,1060 L950,1210" stroke-width="7" stroke-linecap="round" vector-effect="non-scaling-stroke"/>
<path d="M940,1060 L950,1210" stroke="#fff" stroke-width="4.5" stroke-linecap="round" vector-effect="non-scaling-stroke"/>
<path d="M1020,1050 L1040,1200" stroke-width="7" stroke-linecap="round" vector-effect="non-scaling-stroke"/>
<path d="M1020,1050 L1040,1200" stroke="#fff" stroke-width="4.5" stroke-linecap="round" vector-effect="non-scaling-stroke"/>
<path d="M250,270 Q350,160 540,120" vector-effect="non-scaling-stroke"/><path d="M270,250 L500,150 M300,250 L480,180 M330,260 L440,220 M260,265 L540,125" vector-effect="non-scaling-stroke"/>
<path d="M600,1460 Q750,1400 950,1390" vector-effect="non-scaling-stroke"/><path d="M620,1470 L880,1390 M660,1480 L900,1410 M700,1490 L850,1440" vector-effect="non-scaling-stroke"/>
<ellipse cx="680" cy="130" rx="18" ry="25" vector-effect="non-scaling-stroke"/><ellipse cx="1060" cy="640" rx="15" ry="22" vector-effect="non-scaling-stroke"/><ellipse cx="1060" cy="1300" rx="15" ry="22" vector-effect="non-scaling-stroke"/>
<path d="M550,250 Q620,200 700,175" vector-effect="non-scaling-stroke"/><path d="M890,1280 Q1000,1260 1110,1270" vector-effect="non-scaling-stroke"/><path d="M720,95 L700,150" vector-effect="non-scaling-stroke"/>
</g>
<g transform="translate(1185,960) scale(0.12963443090484833)" fill="none" stroke="#000" stroke-width="1">

<path d="M540,75 L350,335 L260,425 Q130,750 70,1100 Q50,1350 75,1560" vector-effect="non-scaling-stroke"/>
<path d="M150,1740 Q250,1930 330,2000" vector-effect="non-scaling-stroke"/>
<path d="M540,75 L1500,540 Q1510,590 1480,600 L1440,590 L1420,650 V920 L1375,935" vector-effect="non-scaling-stroke"/>
<path d="M560,130 L1380,510 L1390,540" vector-effect="non-scaling-stroke"/><path d="M330,345 L1040,660" vector-effect="non-scaling-stroke"/><path d="M330,390 L1020,700" vector-effect="non-scaling-stroke"/>
<path d="M540,75 L560,130 L350,335 M330,345 L330,390 L260,425" vector-effect="non-scaling-stroke"/>
<circle cx="1460" cy="575" r="14" vector-effect="non-scaling-stroke"/>
<path d="M270,440 Q330,680 490,780" vector-effect="non-scaling-stroke"/><path d="M330,390 Q420,650 600,775 L920,810" vector-effect="non-scaling-stroke"/>
<path d="M1180,390 Q1100,580 1040,660 L920,810 Q870,920 865,1050 Q870,1260 960,1620 L1010,2000" vector-effect="non-scaling-stroke"/>
<path d="M1380,510 Q1300,650 1190,800 Q1060,920 1000,1100 Q990,1210 1010,1230" vector-effect="non-scaling-stroke"/>
<path d="M1030,700 L1190,800" vector-effect="non-scaling-stroke"/><path d="M620,850 L1030,930" vector-effect="non-scaling-stroke"/><path d="M890,1260 L1010,1220" vector-effect="non-scaling-stroke"/>
<path d="M400,850 L600,760 L620,860 L590,1100" vector-effect="non-scaling-stroke"/><path d="M400,850 Q370,900 360,970 L420,1000" vector-effect="non-scaling-stroke"/><path d="M500,900 L590,1090" vector-effect="non-scaling-stroke"/>
<ellipse cx="430" cy="910" rx="35" ry="50" vector-effect="non-scaling-stroke"/><ellipse cx="430" cy="910" rx="50" ry="68" vector-effect="non-scaling-stroke"/>
<path d="M1180,910 L1400,860 V920" vector-effect="non-scaling-stroke"/><path d="M1190,800 L1410,750" vector-effect="non-scaling-stroke"/><path d="M1180,910 V1000 L1420,950" vector-effect="non-scaling-stroke"/><path d="M1170,1060 L1430,980" vector-effect="non-scaling-stroke"/><path d="M1380,540 V930" vector-effect="non-scaling-stroke"/>
<ellipse cx="458" cy="1517" rx="314" ry="526" transform="rotate(-20.5 458 1517)" vector-effect="non-scaling-stroke"/>
<ellipse cx="460" cy="1519" rx="298" ry="510" transform="rotate(-20.5 460 1519)" stroke-width="2" vector-effect="non-scaling-stroke"/>
<ellipse cx="462" cy="1522" rx="278" ry="490" transform="rotate(-20.5 462 1522)" stroke-width="1.5" vector-effect="non-scaling-stroke"/>
<path d="M400,1070 L430,1240 L600,1680 L700,1840" vector-effect="non-scaling-stroke"/><path d="M440,1090 L470,1240" vector-effect="non-scaling-stroke"/>
<path d="M300,1810 L610,1730" vector-effect="non-scaling-stroke"/><path d="M310,1870 L640,1800" vector-effect="non-scaling-stroke"/><path d="M380,1900 L650,1840" vector-effect="non-scaling-stroke"/><path d="M460,1950 L520,1920 L560,1980" vector-effect="non-scaling-stroke"/>
<path d="M30,1640 Q40,1560 100,1550 L150,1510" vector-effect="non-scaling-stroke"/><ellipse cx="75" cy="1650" rx="40" ry="55" stroke-width="1.5" vector-effect="non-scaling-stroke"/><ellipse cx="78" cy="1650" rx="55" ry="75" vector-effect="non-scaling-stroke"/>
<path d="M40,1700 Q80,1740 150,1740 L200,1770" vector-effect="non-scaling-stroke"/>
<ellipse cx="790" cy="1975" rx="45" ry="55" stroke-width="1.5" vector-effect="non-scaling-stroke"/>
<path d="M700,1960 L760,1800 L830,1870 L1000,1990 Q1010,2040 950,2055 L800,2060 Q720,2040 700,1960" vector-effect="non-scaling-stroke"/>
<path d="M330,2000 V2120 L920,2400 Q980,2420 1110,2410 L1470,2300 V2060" vector-effect="non-scaling-stroke"/>
<path d="M920,2200 V2400" vector-effect="non-scaling-stroke"/><path d="M1110,2060 V2410" vector-effect="non-scaling-stroke"/>
<path d="M330,2120 Q500,2200 700,2240 Q850,2240 930,2160 L1100,2050 L1400,1970 V1880" vector-effect="non-scaling-stroke"/>
<path d="M360,2030 Q450,2140 700,2210 Q860,2230 920,2060" vector-effect="non-scaling-stroke"/>
<path d="M990,1690 L1110,1670 L1320,1610 L1510,1560" vector-effect="non-scaling-stroke"/><path d="M990,1880 L1110,1860 L1390,1780" vector-effect="non-scaling-stroke"/><path d="M1100,1480 L1120,1850" vector-effect="non-scaling-stroke"/><path d="M980,1680 L990,1900" vector-effect="non-scaling-stroke"/>
<path d="M1400,1680 L1490,1650 Q1570,1680 1580,1760 Q1560,1820 1480,1820 L1390,1840 Z" vector-effect="non-scaling-stroke"/><ellipse cx="1455" cy="1750" rx="35" ry="50" stroke-width="1.5" vector-effect="non-scaling-stroke"/>
<path d="M1420,1900 L1520,1880 V2010 L1400,2080" vector-effect="non-scaling-stroke"/><circle cx="1435" cy="2010" r="25" vector-effect="non-scaling-stroke"/><path d="M1400,2110 V2310" vector-effect="non-scaling-stroke"/><path d="M1430,2070 V2310" vector-effect="non-scaling-stroke"/>
<path d="M1130,1470 L1160,1500 L1350,1540 L1520,1510 L1530,1560" vector-effect="non-scaling-stroke"/><path d="M1300,1540 V1620 L1370,1610 V1550" vector-effect="non-scaling-stroke"/>

</g>
<g transform="translate(1300,1060) scale(0.07407407407407407)" fill="none" stroke="#000" stroke-width="1">

<path d="M700,450 L920,380 Q1100,380 1200,560 L1240,640" vector-effect="non-scaling-stroke"/><path d="M1300,900 Q1310,1200 1140,1250 L930,1310" vector-effect="non-scaling-stroke"/>
<ellipse cx="725" cy="900" rx="280" ry="425" transform="rotate(-12 725 900)" vector-effect="non-scaling-stroke"/>
<ellipse cx="440" cy="970" rx="250" ry="305" transform="rotate(-12 440 970)" fill="#fff" vector-effect="non-scaling-stroke"/>
<ellipse cx="460" cy="980" rx="200" ry="265" transform="rotate(-12 460 980)" stroke-width="1.5" vector-effect="non-scaling-stroke"/>
<ellipse cx="475" cy="985" rx="180" ry="245" transform="rotate(-12 475 985)" vector-effect="non-scaling-stroke"/>
<ellipse cx="300" cy="1010" rx="120" ry="200" transform="rotate(-12 300 1010)" stroke-width="1.5" vector-effect="non-scaling-stroke"/>
<ellipse cx="325" cy="1020" rx="80" ry="128" transform="rotate(-12 325 1020)" vector-effect="non-scaling-stroke"/>
<path d="M290,700 L410,560 L500,500" vector-effect="non-scaling-stroke"/><path d="M480,430 L560,520" vector-effect="non-scaling-stroke"/>
<path d="M950,690 L1200,600 L1290,650 Q1380,700 1380,780 Q1370,840 1300,860 L1060,960 Z" vector-effect="non-scaling-stroke"/>
<path d="M1000,700 Q1100,780 1100,900" vector-effect="non-scaling-stroke"/><path d="M1060,690 Q1160,780 1160,900" vector-effect="non-scaling-stroke"/>
<path d="M620,1360 L1100,1260" vector-effect="non-scaling-stroke"/><path d="M720,1340 V1500 L790,1510 L850,1340" vector-effect="non-scaling-stroke"/>

</g>
<g transform="translate(1175,920) scale(0.25)" fill="none" stroke="#000" stroke-width="1">
<polygon points="921,520 905,530 889,520 889,500 905,490 921,500" stroke-width="1.5" vector-effect="non-scaling-stroke"/><circle cx="905" cy="510" r="10" vector-effect="non-scaling-stroke"/>
<path d="M922,502 L865,487 L860,502 L917,518" vector-effect="non-scaling-stroke"/>
</g>
<g transform="translate(659.18,368.28) scale(0.1058)" fill="none" stroke="#000" stroke-width="1">

<path d="M245,100 Q260,85 300,90 L420,108 Q440,130 460,170 L375,205 L300,195 L245,150 Z" vector-effect="non-scaling-stroke"/>
<path d="M300,195 Q310,160 290,140" vector-effect="non-scaling-stroke"/>
<path d="M375,205 V510" vector-effect="non-scaling-stroke"/><path d="M430,180 V455" vector-effect="non-scaling-stroke"/><path d="M460,170 V450" vector-effect="non-scaling-stroke"/>
<path d="M375,450 L460,448 L590,438 L595,470 L590,540 L545,545 L400,580 L380,585" vector-effect="non-scaling-stroke"/>
<path d="M385,500 L590,475" vector-effect="non-scaling-stroke"/><path d="M400,505 V580" vector-effect="non-scaling-stroke"/>
<path d="M300,560 L375,545 V590" vector-effect="non-scaling-stroke"/><path d="M305,555 V695" vector-effect="non-scaling-stroke"/><path d="M360,550 V690" vector-effect="non-scaling-stroke"/>
<path d="M270,640 V700 Q300,720 370,700 V640" vector-effect="non-scaling-stroke"/>
<path d="M225,710 L275,700" vector-effect="non-scaling-stroke"/><path d="M225,710 V1060" vector-effect="non-scaling-stroke"/>
<path d="M140,1010 V800 Q170,650 215,600 Q250,570 305,565" vector-effect="non-scaling-stroke"/>
<path d="M215,860 L205,950" vector-effect="non-scaling-stroke"/>
<path d="M365,800 Q370,780 400,775 Q430,780 435,795 V880 Q420,895 395,895 Q370,890 365,880 Z" vector-effect="non-scaling-stroke"/>
<path d="M385,690 V790" vector-effect="non-scaling-stroke"/><path d="M420,690 V790" vector-effect="non-scaling-stroke"/>
<path d="M490,740 Q500,730 540,730 L620,735 V850 Q600,940 540,950 L500,940" vector-effect="non-scaling-stroke"/><path d="M520,760 V930" vector-effect="non-scaling-stroke"/>
<path d="M310,890 V1070" vector-effect="non-scaling-stroke"/><path d="M380,1000 V1090" vector-effect="non-scaling-stroke"/><path d="M310,890 Q330,860 365,865" vector-effect="non-scaling-stroke"/>
<path d="M650,495 Q660,478 680,480 Q700,482 702,500 V570" vector-effect="non-scaling-stroke"/><path d="M650,495 V705" vector-effect="non-scaling-stroke"/>
<path d="M530,525 H615 V640" vector-effect="non-scaling-stroke"/><path d="M560,520 V620" vector-effect="non-scaling-stroke"/><path d="M590,520 V625" vector-effect="non-scaling-stroke"/>
<ellipse cx="745" cy="593" rx="75" ry="23" vector-effect="non-scaling-stroke"/><path d="M670,593 V720" vector-effect="non-scaling-stroke"/><path d="M820,593 V700" vector-effect="non-scaling-stroke"/>
<path d="M480,1215 L475,1120 L485,770 Q490,740 540,730 L630,720 L660,740 Q700,720 830,700 L1090,695 Q1120,705 1118,735 L1115,770 L1055,790 L1050,840 L1105,875 L1115,890 L1050,925 L1035,1090 L985,1115 L905,1125 L770,1175 L720,1190 L515,1225 Z" vector-effect="non-scaling-stroke"/>
<path d="M685,870 Q690,790 780,775 L950,745 V850 H985 L980,960 H960 V1080 Q930,1090 870,1090 L760,1085 Q700,1060 690,990 Z" vector-effect="non-scaling-stroke"/>
<ellipse cx="810" cy="935" rx="100" ry="125" vector-effect="non-scaling-stroke"/><ellipse cx="815" cy="930" rx="86" ry="110" vector-effect="non-scaling-stroke"/>
<ellipse cx="1022" cy="790" rx="28" ry="38" vector-effect="non-scaling-stroke"/><ellipse cx="625" cy="1040" rx="26" ry="36" vector-effect="non-scaling-stroke"/><ellipse cx="430" cy="950" rx="28" ry="38" vector-effect="non-scaling-stroke"/>
<path d="M545,1220 L590,1050 Q620,890 700,730" vector-effect="non-scaling-stroke"/>
<path d="M560,1120 H715 V1180 H560 Z" vector-effect="non-scaling-stroke"/><path d="M575,1132 H710" stroke-width="2" vector-effect="non-scaling-stroke"/>
<path d="M180,1060 Q230,1090 320,1110 L480,1150" vector-effect="non-scaling-stroke"/><path d="M280,1065 L480,1115" vector-effect="non-scaling-stroke"/><path d="M140,1010 L180,1060" vector-effect="non-scaling-stroke"/>
<path d="M80,1050 Q82,1025 110,1020 L245,985 L250,1040 L120,1085 Q85,1085 80,1050 Z" vector-effect="non-scaling-stroke"/>
<path d="M110,1020 Q125,1050 115,1082" vector-effect="non-scaling-stroke"/><path d="M185,960 Q210,930 250,960 L260,1000 L280,1065" vector-effect="non-scaling-stroke"/>
<path d="M320,1150 V1320 Q335,1375 420,1400 Q520,1425 690,1430 Q800,1415 840,1395 Q895,1360 900,1300 V1125" vector-effect="non-scaling-stroke"/>
<path d="M470,1410 Q490,1460 540,1500 V1540 Q560,1562 620,1562 Q680,1555 690,1520 L695,1480 Q760,1470 830,1400" vector-effect="non-scaling-stroke"/>
<path d="M540,1510 Q610,1525 690,1500" vector-effect="non-scaling-stroke"/><path d="M520,1470 L700,1470" vector-effect="non-scaling-stroke"/>

</g>

</svg>
<div class="t" style="left:32.2px;top:278.7px">06.</div>
<div class="t" style="left:591.6px;top:284px">07.</div>
<div class="t" style="left:878.3px;top:284.6px">08.</div>
</body></html>
